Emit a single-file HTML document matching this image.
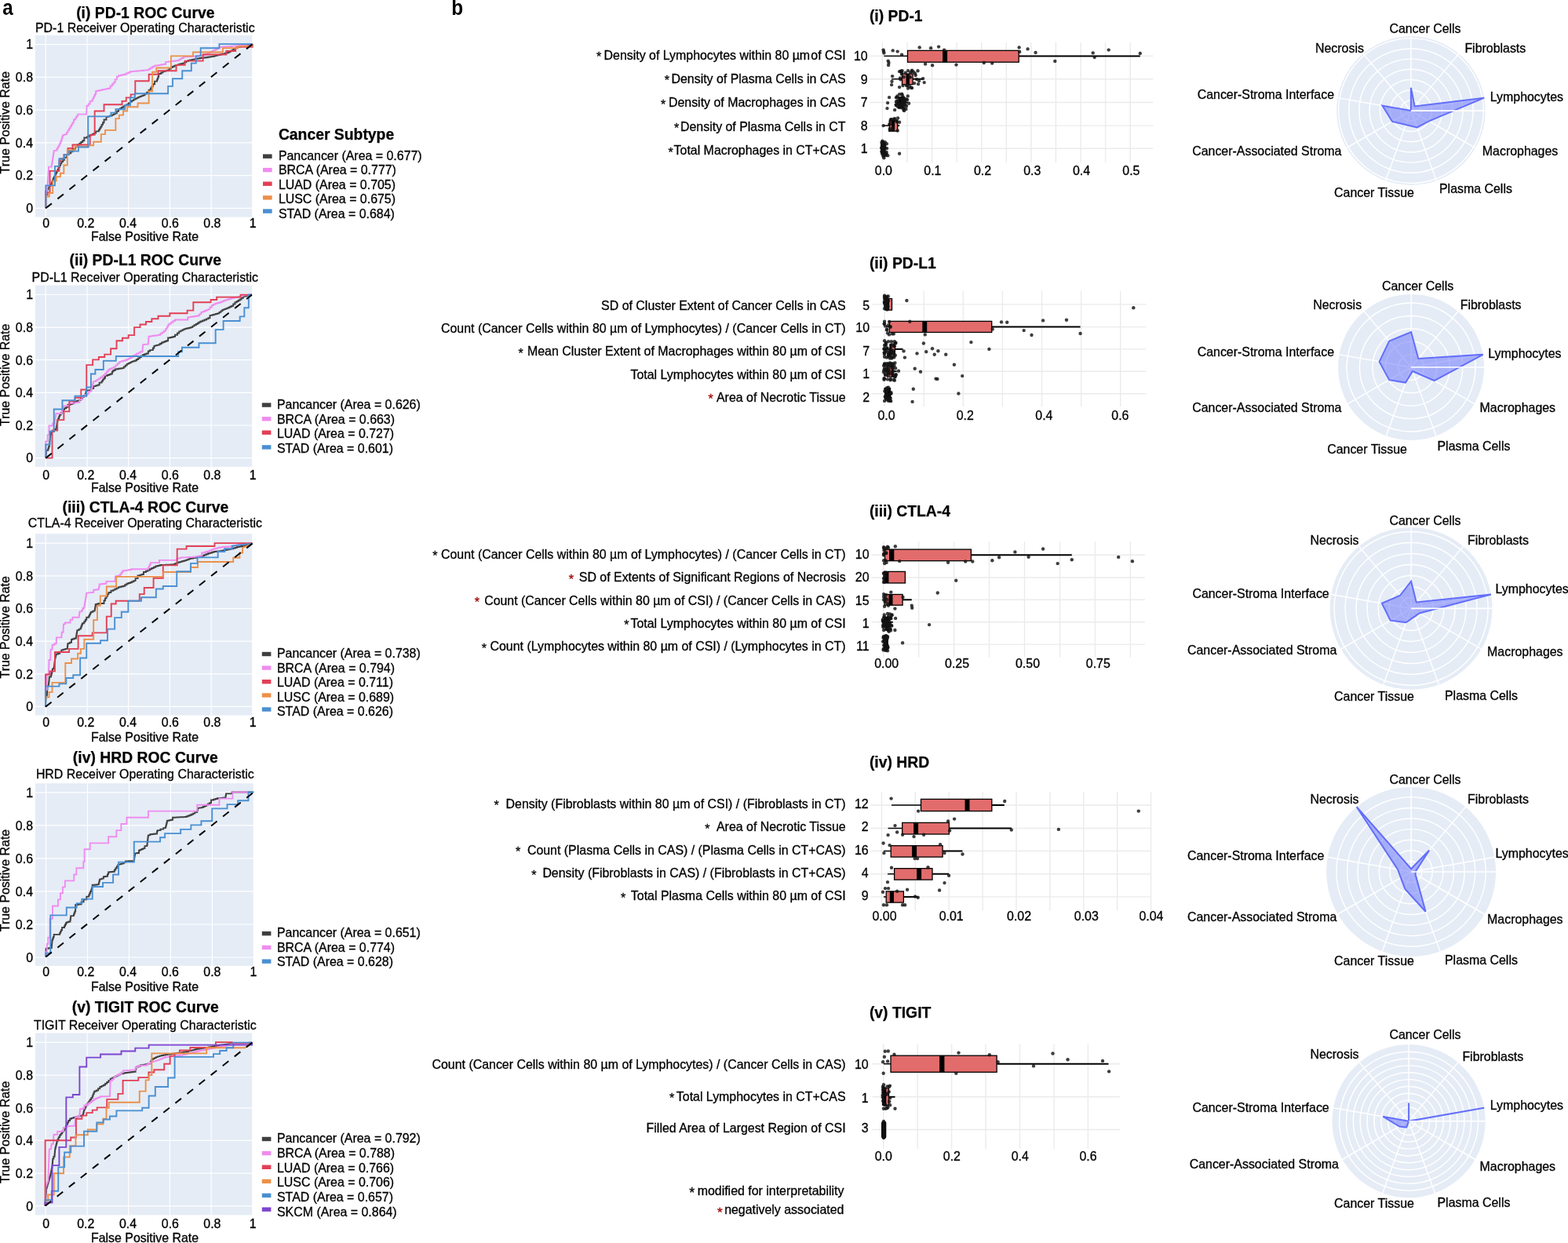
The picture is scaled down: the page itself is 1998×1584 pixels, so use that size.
<!DOCTYPE html>
<html><head><meta charset="utf-8"><title>Figure</title>
<style>
html,body{margin:0;padding:0;background:#fff;}
svg{display:block;}
.t{font-family:'Liberation Sans', Arial, Helvetica, sans-serif;font-size:15.93px;fill:#000;stroke:#000;stroke-width:0.3px;}
.tb{font-family:'Liberation Sans', Arial, Helvetica, sans-serif;font-size:19.35px;font-weight:bold;fill:#000;stroke:#000;stroke-width:0.25px;}
.tl{font-family:'Liberation Sans', Arial, Helvetica, sans-serif;font-size:28px;font-weight:bold;fill:#000;}
.st{font-family:'Liberation Sans', Arial, Helvetica, sans-serif;font-size:16px;stroke-width:0.3px;}
</style></head>
<body>
<svg xmlns="http://www.w3.org/2000/svg" width="1998" height="1584" viewBox="0 0 1998 1584">
<rect width="1998" height="1584" fill="#fff"/>
<rect x="45.0" y="45.0" width="276.8" height="231.6" fill="#e5ecf6"/>
<line x1="58.3" y1="45.0" x2="58.3" y2="276.6" stroke="#fff" stroke-width="1.2"/>
<line x1="45.0" y1="265.4" x2="321.8" y2="265.4" stroke="#fff" stroke-width="1.2"/>
<line x1="111.0" y1="45.0" x2="111.0" y2="276.6" stroke="#fff" stroke-width="1.2"/>
<line x1="45.0" y1="223.6" x2="321.8" y2="223.6" stroke="#fff" stroke-width="1.2"/>
<line x1="163.7" y1="45.0" x2="163.7" y2="276.6" stroke="#fff" stroke-width="1.2"/>
<line x1="45.0" y1="181.9" x2="321.8" y2="181.9" stroke="#fff" stroke-width="1.2"/>
<line x1="216.4" y1="45.0" x2="216.4" y2="276.6" stroke="#fff" stroke-width="1.2"/>
<line x1="45.0" y1="140.1" x2="321.8" y2="140.1" stroke="#fff" stroke-width="1.2"/>
<line x1="269.1" y1="45.0" x2="269.1" y2="276.6" stroke="#fff" stroke-width="1.2"/>
<line x1="45.0" y1="98.4" x2="321.8" y2="98.4" stroke="#fff" stroke-width="1.2"/>
<line x1="321.8" y1="45.0" x2="321.8" y2="276.6" stroke="#fff" stroke-width="1.2"/>
<line x1="45.0" y1="56.6" x2="321.8" y2="56.6" stroke="#fff" stroke-width="1.2"/>
<g clip-path="url(#rocclip0)" fill="none" stroke-width="1.9" stroke-linejoin="miter">
<polyline points="58.35,265.33 58.35,263.27 58.35,263.27 58.35,261.21 58.35,261.21 58.35,259.14 58.35,259.14 58.35,257.08 58.35,257.08 58.35,255.02 58.35,255.02 58.35,252.96 58.35,252.96 58.35,250.90 58.35,250.90 58.35,248.84 58.35,248.84 58.35,246.78 58.35,246.78 58.35,243.81 59.84,243.81 59.84,241.59 61.32,241.59 61.32,239.36 62.80,239.36 62.80,237.14 64.29,237.14 64.29,234.91 65.77,234.91 65.77,232.44 66.76,232.44 66.76,229.97 67.75,229.97 67.75,227.49 68.74,227.49 68.74,225.51 69.73,225.51 69.73,223.54 70.72,223.54 70.72,221.56 71.71,221.56 71.71,219.58 72.70,219.58 72.70,217.60 73.68,217.60 73.68,215.62 74.67,215.62 74.67,213.15 75.91,213.15 75.91,210.68 77.15,210.68 77.15,208.20 78.38,208.20 78.38,205.98 80.24,205.98 80.24,203.75 82.09,203.75 82.09,200.79 85.06,200.79 85.06,197.08 88.03,197.08 88.03,195.22 90.25,195.22 90.25,193.37 92.48,193.37 92.48,189.66 96.19,189.66 96.19,187.06 98.78,187.06 98.78,184.47 101.38,184.47 101.38,182.73 103.36,182.73 103.36,181.00 105.34,181.00 105.34,179.27 107.31,179.27 107.31,175.56 111.02,175.56 111.02,174.08 113.62,174.08 113.62,172.60 116.22,172.60 116.22,171.61 118.19,171.61 118.19,170.62 120.17,170.62 120.17,169.63 122.15,169.63 122.15,167.40 125.86,167.40 125.86,165.43 127.10,165.43 127.10,163.45 128.33,163.45 128.33,161.47 129.57,161.47 129.57,158.87 131.05,158.87 131.05,156.28 132.54,156.28 132.54,152.57 135.50,152.57 135.50,148.86 138.47,148.86 138.47,148.12 140.70,148.12 140.70,147.37 142.92,147.37 142.92,146.38 144.90,146.38 144.90,145.40 146.88,145.40 146.88,144.41 148.86,144.41 148.86,141.81 151.08,141.81 151.08,139.21 153.31,139.21 153.31,137.98 155.29,137.98 155.29,136.74 157.27,136.74 157.27,135.50 159.24,135.50 159.24,134.39 161.47,134.39 161.47,133.28 163.69,133.28 163.69,131.42 165.92,131.42 165.92,129.57 168.15,129.57 168.15,128.09 170.37,128.09 170.37,126.60 172.60,126.60 172.60,125.61 174.57,125.61 174.57,124.62 176.55,124.62 176.55,123.64 178.53,123.64 178.53,122.89 180.51,122.89 180.51,122.15 182.49,122.15 182.49,121.41 184.47,121.41 184.47,119.55 187.06,119.55 187.06,117.70 189.66,117.70 189.66,114.73 191.88,114.73 191.88,112.51 193.37,112.51 193.37,110.28 194.85,110.28 194.85,107.31 197.08,107.31 197.08,103.61 200.04,103.61 200.04,101.63 200.79,101.63 200.79,99.65 201.53,99.65 201.53,97.67 202.27,97.67 202.27,93.96 205.24,93.96 205.24,92.48 207.46,92.48 207.46,90.99 209.69,90.99 209.69,90.50 211.67,90.50 211.67,90.00 213.64,90.00 213.64,89.51 215.62,89.51 215.62,87.66 217.85,87.66 217.85,85.80 220.07,85.80 220.07,84.69 222.30,84.69 222.30,83.58 224.53,83.58 224.53,82.98 226.60,82.98 226.60,82.39 228.68,82.39 228.68,81.80 230.76,81.80 230.76,81.20 232.83,81.20 232.83,80.61 234.91,80.61 234.91,79.37 237.38,79.37 237.38,78.14 239.86,78.14 239.86,76.90 242.33,76.90 242.33,76.40 244.80,76.40 244.80,75.91 247.27,75.91 247.27,75.42 249.75,75.42 249.75,74.92 252.22,74.92 252.22,74.43 254.69,74.43 254.69,73.93 257.17,73.93 257.17,73.68 259.64,73.68 259.64,73.44 262.11,73.44 262.11,73.19 264.58,73.19 264.58,72.82 266.81,72.82 266.81,72.45 269.04,72.45 269.04,72.08 271.26,72.08 271.26,71.71 273.49,71.71 273.49,71.15 275.71,71.15 275.71,70.59 277.94,70.59 277.94,70.04 280.16,70.04 280.16,69.48 282.39,69.48 282.39,68.92 284.61,68.92 284.61,68.37 286.84,68.37 286.84,67.81 289.07,67.81 289.07,67.26 291.29,67.26 291.29,66.27 293.27,66.27 293.27,65.28 295.25,65.28 295.25,64.29 297.23,64.29 297.23,62.80 299.70,62.80 299.70,61.32 302.17,61.32 302.17,59.84 304.64,59.84 304.64,59.47 306.80,59.47 306.80,59.09 308.95,59.09 308.95,58.72 311.10,58.72 311.10,58.35 313.25,58.35 313.25,57.98 315.40,57.98 315.40,57.61 317.55,57.61 317.55,57.24 319.70,57.24 319.70,56.87 321.85,56.87 321.85,56.13 321.85,56.13" stroke="#3f3f3f"/>
<polyline points="58.35,265.33 58.35,263.38 58.35,263.38 58.35,261.43 58.35,261.43 58.35,259.48 58.35,259.48 58.35,257.54 58.35,257.54 58.35,255.59 58.35,255.59 58.35,253.64 58.35,253.64 58.35,251.70 58.35,251.70 58.35,249.75 58.35,249.75 58.35,247.77 58.85,247.77 58.85,245.79 59.34,245.79 59.34,243.81 59.84,243.81 59.84,241.59 60.03,241.59 60.03,239.36 60.23,239.36 60.23,237.14 60.43,237.14 60.43,234.91 60.63,234.91 60.63,232.69 60.83,232.69 60.83,230.46 61.02,230.46 61.02,228.45 61.17,228.45 61.17,226.43 61.32,226.43 61.32,224.42 61.47,224.42 61.47,222.41 61.62,222.41 61.62,220.39 61.77,220.39 61.77,218.38 61.91,218.38 61.91,216.36 62.06,216.36 62.06,212.66 65.77,212.66 65.77,210.60 66.10,210.60 66.10,208.53 66.43,208.53 66.43,206.47 66.76,206.47 66.76,204.41 67.09,204.41 67.09,202.35 67.42,202.35 67.42,200.29 67.75,200.29 67.75,198.23 68.08,198.23 68.08,196.17 68.41,196.17 68.41,194.11 68.74,194.11 68.74,191.88 72.45,191.88 72.45,189.29 73.93,189.29 73.93,186.69 75.42,186.69 75.42,184.47 76.40,184.47 76.40,182.24 77.39,182.24 77.39,180.01 78.38,180.01 78.38,177.54 79.12,177.54 79.12,175.07 79.87,175.07 79.87,172.60 80.61,172.60 80.61,171.85 82.83,171.85 82.83,171.11 85.06,171.11 85.06,168.64 86.54,168.64 86.54,166.17 88.03,166.17 88.03,163.69 89.51,163.69 89.51,161.22 90.99,161.22 90.99,158.75 92.48,158.75 92.48,156.28 93.96,156.28 93.96,152.57 96.19,152.57 96.19,150.24 97.67,150.24 97.67,147.92 99.15,147.92 99.15,145.59 100.64,145.59 100.64,145.59 102.57,145.59 102.57,145.59 104.50,145.59 104.50,145.59 106.42,145.59 106.42,145.59 108.35,145.59 108.35,145.59 110.28,145.59 110.28,143.44 110.36,143.44 110.36,141.29 110.43,141.29 110.43,139.14 110.50,139.14 110.50,136.99 110.58,136.99 110.58,134.76 112.66,134.76 112.66,132.54 114.73,132.54 114.73,128.83 117.70,128.83 117.70,126.60 118.81,126.60 118.81,124.38 119.93,124.38 119.93,122.15 121.04,122.15 121.04,119.93 122.15,119.93 122.15,116.22 123.64,116.22 123.64,115.72 125.86,115.72 125.86,115.23 128.09,115.23 128.09,114.73 130.31,114.73 130.31,114.29 132.39,114.29 132.39,113.84 134.47,113.84 134.47,113.40 136.54,113.40 136.54,112.95 138.62,112.95 138.62,112.51 140.70,112.51 140.70,109.54 142.92,109.54 142.92,107.31 144.78,107.31 144.78,105.09 146.63,105.09 146.63,101.38 148.86,101.38 148.86,97.67 151.08,97.67 151.08,96.19 154.05,96.19 154.05,95.69 156.28,95.69 156.28,95.20 158.50,95.20 158.50,94.70 160.73,94.70 160.73,93.57 163.20,93.57 163.20,92.43 165.67,92.43 165.67,91.29 168.15,91.29 168.15,91.10 170.10,91.10 170.10,90.91 172.06,90.91 172.06,90.72 174.01,90.72 174.01,90.54 175.97,90.54 175.97,90.35 177.92,90.35 177.92,90.16 179.88,90.16 179.88,89.97 181.84,89.97 181.84,89.78 183.79,89.78 183.79,89.59 185.75,89.59 185.75,89.40 187.70,89.40 187.70,89.21 189.66,89.21 189.66,87.88 191.88,87.88 191.88,86.54 194.11,86.54 194.11,85.21 196.34,85.21 196.34,83.87 198.56,83.87 198.56,83.53 200.66,83.53 200.66,83.18 202.76,83.18 202.76,82.83 204.87,82.83 204.87,82.49 206.97,82.49 206.97,82.14 209.07,82.14 209.07,81.80 211.17,81.80 211.17,78.83 214.88,78.83 214.88,78.38 218.59,78.38 218.59,78.09 220.67,78.09 220.67,77.79 222.74,77.79 222.74,77.49 224.82,77.49 224.82,77.20 226.90,77.20 226.90,76.90 228.98,76.90 228.98,75.42 231.45,75.42 231.45,73.93 233.92,73.93 233.92,72.45 236.39,72.45 236.39,72.32 238.62,72.32 238.62,72.20 240.85,72.20 240.85,72.08 243.07,72.08 243.07,71.95 245.30,71.95 245.30,71.83 247.52,71.83 247.52,71.71 249.75,71.71 249.75,71.46 251.73,71.46 251.73,71.21 253.70,71.21 253.70,70.96 255.68,70.96 255.68,70.72 257.66,70.72 257.66,70.47 259.64,70.47 259.64,70.22 261.62,70.22 261.62,69.23 263.72,69.23 263.72,68.24 265.82,68.24 265.82,67.26 267.92,67.26 267.92,66.27 270.02,66.27 270.02,65.28 272.13,65.28 272.13,64.29 274.23,64.29 274.23,63.18 276.27,63.18 276.27,62.06 278.31,62.06 278.31,60.95 280.35,60.95 280.35,59.84 282.39,59.84 282.39,59.69 284.47,59.69 284.47,59.54 286.54,59.54 286.54,59.39 288.62,59.39 288.62,59.24 290.70,59.24 290.70,59.09 292.77,59.09 292.77,58.95 294.85,58.95 294.85,58.80 296.93,58.80 296.93,58.65 299.01,58.65 299.01,58.50 301.08,58.50 301.08,58.35 303.16,58.35 303.16,58.11 305.24,58.11 305.24,57.86 307.31,57.86 307.31,57.61 309.39,57.61 309.39,57.36 311.47,57.36 311.47,57.12 313.55,57.12 313.55,56.87 315.62,56.87 315.62,56.62 317.70,56.62 317.70,56.37 319.78,56.37 319.78,56.13 321.85,56.13" stroke="#ef8cef"/>
<polyline points="58.35,265.33 58.35,248.26 60.58,248.26 60.58,245.30 63.55,245.30 63.55,217.85 75.42,217.85 75.42,205.24 77.64,205.24 77.64,202.27 81.35,202.27 81.35,197.08 86.54,197.08 86.54,188.92 92.48,188.92 92.48,184.47 114.73,184.47 114.73,171.85 120.67,171.85 120.67,141.44 132.54,141.44 132.54,133.28 155.53,133.28 155.53,128.83 160.73,128.83 160.73,124.38 166.66,124.38 166.66,120.37 172.30,120.37 172.30,103.31 189.66,103.31 189.66,94.70 201.53,94.70 201.53,90.25 224.53,90.25 224.53,82.83 235.65,82.83 235.65,77.64 258.65,77.64 258.65,69.48 288.32,69.48 288.32,65.03 300.19,65.03 300.19,61.32 303.16,59.84 321.85,59.84 321.85,56.13" stroke="#e23f55"/>
<polyline points="58.35,265.33 58.35,250.49 62.80,250.49 62.80,246.04 67.26,246.04 67.26,230.46 71.71,230.46 71.71,225.27 76.90,225.27 76.90,220.82 81.35,220.82 81.35,210.43 85.80,210.43 85.80,191.14 95.45,191.14 95.45,186.69 113.25,186.69 113.25,185.21 119.18,185.21 119.18,180.76 128.83,180.76 128.83,171.11 134.02,171.11 134.02,165.92 147.37,165.92 147.37,151.08 151.82,151.08 151.82,146.63 157.02,146.63 157.02,141.44 162.21,141.44 162.21,136.25 175.56,136.25 175.56,131.50 189.66,131.50 189.66,116.22 194.11,116.22 194.11,91.74 199.30,91.74 199.30,86.54 217.85,86.54 217.85,71.41 246.04,71.41 246.04,66.51 283.87,66.51 283.87,61.32 303.16,61.32 303.16,59.09 321.85,58.35 321.85,56.13" stroke="#ec9049"/>
<polyline points="58.35,265.33 58.35,236.39 69.93,236.39 69.93,211.91 75.42,211.91 75.42,202.27 82.09,202.27 82.09,197.08 88.03,197.08 88.03,192.63 99.90,192.63 99.90,187.43 112.21,187.43 112.21,148.41 141.44,148.41 141.44,143.66 147.37,143.66 147.37,139.21 159.24,139.21 159.24,134.02 165.92,134.02 165.92,124.38 171.85,124.38 171.85,119.18 214.14,119.18 214.14,109.84 220.07,109.84 220.07,100.19 232.24,100.19 232.24,90.25 243.81,90.25 243.81,80.61 249.75,80.61 249.75,71.41 255.68,71.41 255.68,61.32 279.42,61.32 279.42,56.13 321.85,56.13" stroke="#4a8fd1"/>
<line x1="58.35" y1="265.33" x2="321.85" y2="56.13" stroke="#000" stroke-width="2.0" stroke-dasharray="9.6,9.6"/>
</g>
<clipPath id="rocclip0"><rect x="45.0" y="45.0" width="277.8" height="231.6"/></clipPath>
<text x="58.6" y="289.6" text-anchor="middle" class="t">0</text>
<text x="42" y="271.2" text-anchor="end" class="t">0</text>
<text x="109.2" y="289.6" text-anchor="middle" class="t">0.2</text>
<text x="42" y="229.4" text-anchor="end" class="t">0.2</text>
<text x="163.1" y="289.6" text-anchor="middle" class="t">0.4</text>
<text x="42" y="187.7" text-anchor="end" class="t">0.4</text>
<text x="216.9" y="289.6" text-anchor="middle" class="t">0.6</text>
<text x="42" y="145.9" text-anchor="end" class="t">0.6</text>
<text x="270.4" y="289.6" text-anchor="middle" class="t">0.8</text>
<text x="42" y="104.2" text-anchor="end" class="t">0.8</text>
<text x="322.2" y="289.6" text-anchor="middle" class="t">1</text>
<text x="42" y="62.4" text-anchor="end" class="t">1</text>
<text x="184.5" y="306.9" text-anchor="middle" class="t">False Positive Rate</text>
<text transform="translate(12.4,156.2) rotate(-90)" x="0" y="0" text-anchor="middle" class="t">True Positive Rate</text>
<text x="185.3" y="22.8" text-anchor="middle" class="tb">(i) PD-1 ROC Curve</text>
<text x="184.8" y="41.1" text-anchor="middle" class="t">PD-1 Receiver Operating Characteristic</text>
<rect x="335.0" y="196.5" width="11.6" height="5.4" fill="#3f3f3f"/>
<text x="354.9" y="203.8" class="t">Pancancer (Area = 0.677)</text>
<rect x="335.0" y="213.9" width="11.6" height="5.4" fill="#ef8cef"/>
<text x="354.9" y="222.3" class="t">BRCA (Area = 0.777)</text>
<rect x="335.0" y="231.5" width="11.6" height="5.4" fill="#e23f55"/>
<text x="354.9" y="240.8" class="t">LUAD (Area = 0.705)</text>
<rect x="335.0" y="249.2" width="11.6" height="5.4" fill="#ec9049"/>
<text x="354.9" y="259.3" class="t">LUSC (Area = 0.675)</text>
<rect x="335.0" y="266.4" width="11.6" height="5.4" fill="#4a8fd1"/>
<text x="354.9" y="277.7" class="t">STAD (Area = 0.684)</text>
<text x="354.9" y="178.0" class="tb">Cancer Subtype</text>
<rect x="45.0" y="363.5" width="276.8" height="231.3" fill="#e5ecf6"/>
<line x1="58.3" y1="363.5" x2="58.3" y2="594.8" stroke="#fff" stroke-width="1.2"/>
<line x1="45.0" y1="583.6" x2="321.8" y2="583.6" stroke="#fff" stroke-width="1.2"/>
<line x1="111.0" y1="363.5" x2="111.0" y2="594.8" stroke="#fff" stroke-width="1.2"/>
<line x1="45.0" y1="542.0" x2="321.8" y2="542.0" stroke="#fff" stroke-width="1.2"/>
<line x1="163.7" y1="363.5" x2="163.7" y2="594.8" stroke="#fff" stroke-width="1.2"/>
<line x1="45.0" y1="500.4" x2="321.8" y2="500.4" stroke="#fff" stroke-width="1.2"/>
<line x1="216.4" y1="363.5" x2="216.4" y2="594.8" stroke="#fff" stroke-width="1.2"/>
<line x1="45.0" y1="458.7" x2="321.8" y2="458.7" stroke="#fff" stroke-width="1.2"/>
<line x1="269.1" y1="363.5" x2="269.1" y2="594.8" stroke="#fff" stroke-width="1.2"/>
<line x1="45.0" y1="417.1" x2="321.8" y2="417.1" stroke="#fff" stroke-width="1.2"/>
<line x1="321.8" y1="363.5" x2="321.8" y2="594.8" stroke="#fff" stroke-width="1.2"/>
<line x1="45.0" y1="375.5" x2="321.8" y2="375.5" stroke="#fff" stroke-width="1.2"/>
<g clip-path="url(#rocclip1)" fill="none" stroke-width="1.9" stroke-linejoin="miter">
<polyline points="58.35,583.62 58.35,581.30 58.60,581.30 58.60,578.97 58.85,578.97 58.85,576.65 59.09,576.65 59.09,573.68 61.32,573.68 61.32,571.46 62.06,571.46 62.06,569.23 62.80,569.23 62.80,567.01 63.05,567.01 63.05,564.78 63.30,564.78 63.30,562.55 63.55,562.55 63.55,560.33 63.79,560.33 63.79,558.10 64.04,558.10 64.04,555.88 64.29,555.88 64.29,553.65 65.03,553.65 65.03,551.43 65.77,551.43 65.77,549.94 68.74,549.94 68.74,546.98 71.71,546.98 71.71,544.75 72.08,544.75 72.08,542.53 72.45,542.53 72.45,540.30 72.82,540.30 72.82,538.07 73.19,538.07 73.19,535.60 74.18,535.60 74.18,533.13 75.17,533.13 75.17,530.66 76.16,530.66 76.16,528.43 77.64,528.43 77.64,526.20 79.12,526.20 79.12,523.98 80.61,523.98 80.61,521.75 82.09,521.75 82.09,520.27 84.32,520.27 84.32,518.79 86.54,518.79 86.54,515.82 89.51,515.82 89.51,515.08 91.74,515.08 91.74,514.34 93.96,514.34 93.96,512.85 96.19,512.85 96.19,511.37 98.41,511.37 98.41,510.63 100.64,510.63 100.64,509.88 102.86,509.88 102.86,507.91 104.84,507.91 104.84,505.93 106.82,505.93 106.82,503.95 108.80,503.95 108.80,501.97 109.29,501.97 109.29,499.99 109.79,499.99 109.79,498.01 110.28,498.01 110.28,497.77 112.26,497.77 112.26,497.52 114.24,497.52 114.24,497.27 116.22,497.27 116.22,495.05 119.18,495.05 119.18,492.08 122.15,492.08 122.15,491.34 124.38,491.34 124.38,490.60 126.60,490.60 126.60,487.63 129.57,487.63 129.57,485.65 131.05,485.65 131.05,483.67 132.54,483.67 132.54,481.69 134.02,481.69 134.02,478.73 136.99,478.73 136.99,477.99 138.97,477.99 138.97,477.24 140.94,477.24 140.94,476.50 142.92,476.50 142.92,473.53 144.41,473.53 144.41,472.05 146.63,472.05 146.63,470.57 148.86,470.57 148.86,470.20 151.08,470.20 151.08,469.82 153.31,469.82 153.31,469.45 155.53,469.45 155.53,469.08 157.76,469.08 157.76,467.35 159.74,467.35 159.74,465.62 161.72,465.62 161.72,463.89 163.69,463.89 163.69,462.90 165.67,462.90 165.67,461.91 167.65,461.91 167.65,460.92 169.63,460.92 169.63,460.18 171.85,460.18 171.85,459.44 174.08,459.44 174.08,457.96 176.06,457.96 176.06,456.47 178.04,456.47 178.04,454.99 180.01,454.99 180.01,453.50 182.24,453.50 182.24,452.02 184.47,452.02 184.47,451.28 186.69,451.28 186.69,450.54 188.92,450.54 188.92,447.57 191.14,447.57 191.14,446.09 194.85,446.09 194.85,443.49 196.34,443.49 196.34,440.89 197.82,440.89 197.82,440.40 199.80,440.40 199.80,439.90 201.78,439.90 201.78,439.41 203.75,439.41 203.75,437.93 205.98,437.93 205.98,436.44 208.20,436.44 208.20,435.70 210.18,435.70 210.18,434.96 212.16,434.96 212.16,434.22 214.14,434.22 214.14,430.51 217.11,430.51 217.11,430.01 219.09,430.01 219.09,429.52 221.06,429.52 221.06,429.02 223.04,429.02 223.04,426.80 226.01,426.80 226.01,424.57 228.23,424.57 228.23,422.35 230.46,422.35 230.46,421.36 232.44,421.36 232.44,420.37 234.42,420.37 234.42,419.38 236.39,419.38 236.39,418.82 238.62,418.82 238.62,418.27 240.85,418.27 240.85,417.71 243.07,417.71 243.07,417.15 245.30,417.15 245.30,415.67 247.52,415.67 247.52,414.19 249.75,414.19 249.75,412.95 251.73,412.95 251.73,411.71 253.70,411.71 253.70,410.48 255.68,410.48 255.68,409.49 258.16,409.49 258.16,408.50 260.63,408.50 260.63,407.51 263.10,407.51 263.10,406.40 265.33,406.40 265.33,405.28 267.55,405.28 267.55,401.87 270.52,401.87 270.52,401.24 272.74,401.24 272.74,400.61 274.97,400.61 274.97,399.98 277.20,399.98 277.20,399.35 279.42,399.35 279.42,397.87 281.40,397.87 281.40,396.38 283.38,396.38 283.38,394.90 285.36,394.90 285.36,394.16 287.33,394.16 287.33,393.42 289.31,393.42 289.31,392.67 291.29,392.67 291.29,391.68 293.27,391.68 293.27,390.70 295.25,390.70 295.25,389.71 297.23,389.71 297.23,387.48 299.45,387.48 299.45,385.26 301.68,385.26 301.68,384.02 303.65,384.02 303.65,382.78 305.63,382.78 305.63,381.55 307.61,381.55 307.61,379.69 309.84,379.69 309.84,377.84 312.06,377.84 312.06,377.28 314.29,377.28 314.29,376.72 316.51,376.72 316.51,376.17 318.74,376.17 318.74,375.61 320.96,375.61" stroke="#3f3f3f"/>
<polyline points="58.35,583.62 58.35,581.52 58.35,581.52 58.35,579.41 58.35,579.41 58.35,577.30 58.35,577.30 58.35,575.20 58.35,575.20 58.35,573.09 58.35,573.09 58.35,570.98 58.35,570.98 58.35,568.88 58.35,568.88 58.35,566.77 58.35,566.77 58.35,564.66 58.35,564.66 58.35,562.55 58.35,562.55 58.35,562.55 60.58,562.55 60.58,560.51 60.58,560.51 60.58,558.47 60.58,558.47 60.58,556.43 60.58,556.43 60.58,554.39 60.58,554.39 60.58,554.39 62.51,554.39 62.51,552.42 62.51,552.42 62.51,550.44 62.51,550.44 62.51,548.46 62.51,548.46 62.51,546.48 62.51,546.48 62.51,544.50 62.51,544.50 62.51,542.53 62.51,542.53 62.51,542.53 64.88,542.53 64.88,542.53 67.26,542.53 67.26,539.56 69.48,539.56 69.48,537.46 69.85,537.46 69.85,535.35 70.22,535.35 70.22,533.25 70.59,533.25 70.59,531.15 70.96,531.15 70.96,529.05 71.34,529.05 71.34,526.95 71.71,526.95 71.71,526.95 73.93,526.95 73.93,526.95 76.16,526.95 76.16,526.95 78.38,526.95 78.38,525.02 78.98,525.02 78.98,523.09 79.57,523.09 79.57,521.16 80.16,521.16 80.16,519.23 80.76,519.23 80.76,517.30 81.35,517.30 81.35,517.30 83.58,517.30 83.58,517.30 85.80,517.30 85.80,517.30 88.03,517.30 88.03,514.34 88.03,514.34 88.03,514.09 90.25,514.09 90.25,513.84 92.48,513.84 92.48,513.59 94.70,513.59 94.70,513.35 96.93,513.35 96.93,513.10 99.15,513.10 99.15,512.85 101.38,512.85 101.38,509.14 104.35,509.14 104.35,505.43 107.31,505.43 107.31,504.20 109.29,504.20 109.29,502.96 111.27,502.96 111.27,501.72 113.25,501.72 113.25,498.76 116.22,498.76 116.22,496.53 116.81,496.53 116.81,494.31 117.40,494.31 117.40,492.08 118.00,492.08 118.00,489.85 118.59,489.85 118.59,487.63 119.18,487.63 119.18,486.15 122.15,486.15 122.15,484.91 124.13,484.91 124.13,483.67 126.11,483.67 126.11,482.44 128.09,482.44 128.09,480.95 130.06,480.95 130.06,479.47 132.04,479.47 132.04,477.99 134.02,477.99 134.02,475.76 136.00,475.76 136.00,473.53 137.98,473.53 137.98,471.31 139.96,471.31 139.96,470.07 142.43,470.07 142.43,468.84 144.90,468.84 144.90,467.60 147.37,467.60 147.37,465.37 149.85,465.37 149.85,463.15 152.32,463.15 152.32,460.92 154.79,460.92 154.79,460.18 157.27,460.18 157.27,459.44 159.74,459.44 159.74,458.70 162.21,458.70 162.21,457.71 164.19,457.71 164.19,456.72 166.17,456.72 166.17,455.73 168.15,455.73 168.15,454.49 170.12,454.49 170.12,453.26 172.10,453.26 172.10,452.02 174.08,452.02 174.08,450.78 176.55,450.78 176.55,449.55 179.03,449.55 179.03,448.31 181.50,448.31 181.50,446.09 181.68,446.09 181.68,443.86 181.87,443.86 181.87,441.64 182.05,441.64 182.05,439.41 182.24,439.41 182.24,439.16 184.47,439.16 184.47,438.91 186.69,438.91 186.69,438.67 188.92,438.67 188.92,436.74 189.07,436.74 189.07,434.81 189.21,434.81 189.21,432.88 189.36,432.88 189.36,430.95 189.51,430.95 189.51,429.02 189.66,429.02 189.66,428.71 191.78,428.71 191.78,428.39 193.90,428.39 193.90,428.07 196.02,428.07 196.02,427.75 198.14,427.75 198.14,427.43 200.26,427.43 200.26,427.12 202.38,427.12 202.38,426.80 204.50,426.80 204.50,425.07 206.72,425.07 206.72,423.34 208.95,423.34 208.95,421.61 211.17,421.61 211.17,419.13 212.66,419.13 212.66,416.66 214.14,416.66 214.14,414.19 215.62,414.19 215.62,412.46 218.10,412.46 218.10,410.73 220.57,410.73 220.57,408.99 223.04,408.99 223.04,407.51 225.27,407.51 225.27,407.51 227.28,407.51 227.28,407.51 229.29,407.51 229.29,407.51 231.31,407.51 231.31,407.51 233.32,407.51 233.32,407.51 235.33,407.51 235.33,407.51 237.35,407.51 237.35,407.51 239.36,407.51 239.36,404.54 240.85,404.54 240.85,404.17 243.07,404.17 243.07,403.80 245.30,403.80 245.30,403.43 247.52,403.43 247.52,403.06 249.75,403.06 249.75,402.69 251.97,402.69 251.97,402.32 254.20,402.32 254.20,400.09 256.42,400.09 256.42,397.87 258.65,397.87 258.65,396.94 260.88,396.94 260.88,396.01 263.10,396.01 263.10,395.08 265.33,395.08 265.33,394.16 267.55,394.16 267.55,391.56 269.78,391.56 269.78,388.96 272.00,388.96 272.00,387.85 274.23,387.85 274.23,386.74 276.45,386.74 276.45,386.24 278.43,386.24 278.43,385.75 280.41,385.75 280.41,385.26 282.39,385.26 282.39,384.27 284.86,384.27 284.86,383.28 287.33,383.28 287.33,382.29 289.81,382.29 289.81,381.55 292.28,381.55 292.28,380.80 294.75,380.80 294.75,380.06 297.23,380.06 297.23,379.62 299.30,379.62 299.30,379.17 301.38,379.17 301.38,378.73 303.46,378.73 303.46,378.28 305.53,378.28 305.53,377.84 307.61,377.84 307.61,377.09 309.84,377.09 309.84,376.35 312.06,376.35 312.06,376.17 314.29,376.17 314.29,375.98 316.51,375.98 316.51,375.80 318.74,375.80 318.74,375.61 320.96,375.61" stroke="#ef8cef"/>
<polyline points="58.35,583.62 66.51,583.62 66.51,548.46 73.19,548.46 73.19,535.11 81.35,535.11 81.35,524.42 88.32,524.42 88.32,511.37 95.45,511.37 95.45,506.92 103.31,506.92 103.31,496.53 110.28,496.53 110.28,465.08 118.15,465.08 118.15,458.40 125.86,458.40 125.86,454.99 133.28,454.99 133.28,451.58 141.14,451.58 141.14,444.31 148.56,444.31 148.56,434.22 155.98,434.22 155.98,430.80 163.69,430.80 163.69,427.09 171.11,427.09 171.11,417.15 178.53,417.15 178.53,413.45 185.95,413.45 185.95,410.03 193.37,410.03 193.37,406.32 201.53,406.32 201.53,402.76 216.36,402.76 216.36,399.20 238.62,399.20 238.62,395.64 246.34,395.64 246.34,385.26 268.59,385.26 268.59,381.99 276.16,381.99 276.16,378.58 306.42,378.58 306.42,375.61 320.96,375.61" stroke="#e23f55"/>
<polyline points="58.35,583.62 58.35,566.56 63.55,566.56 63.55,549.65 68.74,549.65 68.74,521.46 79.42,521.46 79.42,510.18 95.45,510.18 95.45,504.69 110.28,504.69 110.28,493.56 115.92,493.56 115.92,476.50 121.41,476.50 121.41,471.01 131.80,471.01 131.80,459.74 147.82,459.74 147.82,453.95 227.20,453.95 227.20,448.31 231.94,448.31 231.94,442.82 253.46,442.82 253.46,437.18 274.67,437.18 274.67,420.12 284.61,420.12 284.61,408.99 305.68,408.99 305.68,403.36 311.32,403.36 311.32,392.23 316.81,392.23 316.81,375.61 320.96,375.61" stroke="#4a8fd1"/>
<line x1="58.35" y1="583.62" x2="320.96" y2="375.61" stroke="#000" stroke-width="2.0" stroke-dasharray="9.6,9.6"/>
</g>
<clipPath id="rocclip1"><rect x="45.0" y="363.5" width="277.8" height="231.3"/></clipPath>
<text x="58.6" y="610.8" text-anchor="middle" class="t">0</text>
<text x="42" y="589.4" text-anchor="end" class="t">0</text>
<text x="109.2" y="610.8" text-anchor="middle" class="t">0.2</text>
<text x="42" y="547.8" text-anchor="end" class="t">0.2</text>
<text x="163.1" y="610.8" text-anchor="middle" class="t">0.4</text>
<text x="42" y="506.2" text-anchor="end" class="t">0.4</text>
<text x="216.9" y="610.8" text-anchor="middle" class="t">0.6</text>
<text x="42" y="464.5" text-anchor="end" class="t">0.6</text>
<text x="270.4" y="610.8" text-anchor="middle" class="t">0.8</text>
<text x="42" y="422.9" text-anchor="end" class="t">0.8</text>
<text x="322.2" y="610.8" text-anchor="middle" class="t">1</text>
<text x="42" y="381.3" text-anchor="end" class="t">1</text>
<text x="184.5" y="627.0" text-anchor="middle" class="t">False Positive Rate</text>
<text transform="translate(12.4,477.8) rotate(-90)" x="0" y="0" text-anchor="middle" class="t">True Positive Rate</text>
<text x="185.3" y="337.8" text-anchor="middle" class="tb">(ii) PD-L1 ROC Curve</text>
<text x="184.8" y="358.7" text-anchor="middle" class="t">PD-L1 Receiver Operating Characteristic</text>
<rect x="333.8" y="513.4" width="11.6" height="5.4" fill="#3f3f3f"/>
<text x="353.0" y="521.3" class="t">Pancancer (Area = 0.626)</text>
<rect x="333.8" y="531.1" width="11.6" height="5.4" fill="#ef8cef"/>
<text x="353.0" y="539.7" class="t">BRCA (Area = 0.663)</text>
<rect x="333.8" y="548.5" width="11.6" height="5.4" fill="#e23f55"/>
<text x="353.0" y="558.4" class="t">LUAD (Area = 0.727)</text>
<rect x="333.8" y="567.2" width="11.6" height="5.4" fill="#4a8fd1"/>
<text x="353.0" y="576.6" class="t">STAD (Area = 0.601)</text>
<rect x="45.0" y="680.2" width="276.8" height="231.4" fill="#e5ecf6"/>
<line x1="58.3" y1="680.2" x2="58.3" y2="911.6" stroke="#fff" stroke-width="1.2"/>
<line x1="45.0" y1="900.4" x2="321.8" y2="900.4" stroke="#fff" stroke-width="1.2"/>
<line x1="111.0" y1="680.2" x2="111.0" y2="911.6" stroke="#fff" stroke-width="1.2"/>
<line x1="45.0" y1="858.8" x2="321.8" y2="858.8" stroke="#fff" stroke-width="1.2"/>
<line x1="163.7" y1="680.2" x2="163.7" y2="911.6" stroke="#fff" stroke-width="1.2"/>
<line x1="45.0" y1="817.1" x2="321.8" y2="817.1" stroke="#fff" stroke-width="1.2"/>
<line x1="216.4" y1="680.2" x2="216.4" y2="911.6" stroke="#fff" stroke-width="1.2"/>
<line x1="45.0" y1="775.5" x2="321.8" y2="775.5" stroke="#fff" stroke-width="1.2"/>
<line x1="269.1" y1="680.2" x2="269.1" y2="911.6" stroke="#fff" stroke-width="1.2"/>
<line x1="45.0" y1="733.8" x2="321.8" y2="733.8" stroke="#fff" stroke-width="1.2"/>
<line x1="321.8" y1="680.2" x2="321.8" y2="911.6" stroke="#fff" stroke-width="1.2"/>
<line x1="45.0" y1="692.2" x2="321.8" y2="692.2" stroke="#fff" stroke-width="1.2"/>
<g clip-path="url(#rocclip2)" fill="none" stroke-width="1.9" stroke-linejoin="miter">
<polyline points="58.06,900.62 58.06,898.47 58.16,898.47 58.16,896.32 58.25,896.32 58.25,894.17 58.35,894.17 58.35,892.02 58.45,892.02 58.45,889.87 58.55,889.87 58.55,887.72 58.65,887.72 58.65,886.23 59.84,886.23 59.84,884.15 59.99,884.15 59.99,882.08 60.13,882.08 60.13,880.00 60.28,880.00 60.28,877.92 60.43,877.92 60.43,875.85 60.58,875.85 60.58,872.88 62.06,872.88 62.06,870.41 62.31,870.41 62.31,867.93 62.56,867.93 62.56,865.46 62.80,865.46 62.80,862.49 65.03,862.49 65.03,860.27 65.59,860.27 65.59,858.04 66.14,858.04 66.14,855.82 66.70,855.82 66.70,853.59 67.26,853.59 67.26,852.11 68.74,852.11 68.74,850.13 68.99,850.13 68.99,848.15 69.23,848.15 69.23,846.17 69.48,846.17 69.48,844.19 69.73,844.19 69.73,842.22 69.98,842.22 69.98,840.24 70.22,840.24 70.22,838.26 70.72,838.26 70.72,836.28 71.21,836.28 71.21,834.30 71.71,834.30 71.71,833.56 73.93,833.56 73.93,832.82 76.16,832.82 76.16,830.59 78.38,830.59 78.38,828.37 80.61,828.37 80.61,827.63 83.20,827.63 83.20,826.88 85.80,826.88 85.80,824.91 86.05,824.91 86.05,822.93 86.30,822.93 86.30,820.95 86.54,820.95 86.54,819.84 88.77,819.84 88.77,818.72 90.99,818.72 90.99,815.01 92.48,815.01 92.48,814.27 94.70,814.27 94.70,813.53 96.93,813.53 96.93,811.31 97.30,811.31 97.30,809.08 97.67,809.08 97.67,806.85 98.04,806.85 98.04,804.63 98.41,804.63 98.41,803.15 100.64,803.15 100.64,801.66 102.86,801.66 102.86,799.68 103.61,799.68 103.61,797.71 104.35,797.71 104.35,795.73 105.09,795.73 105.09,794.24 107.31,794.24 107.31,792.02 108.80,792.02 108.80,789.79 110.28,789.79 110.28,786.82 113.25,786.82 113.25,784.85 114.24,784.85 114.24,782.87 115.23,782.87 115.23,780.89 116.22,780.89 116.22,779.78 118.44,779.78 118.44,778.66 120.67,778.66 120.67,776.62 121.04,776.62 121.04,774.58 121.41,774.58 121.41,772.54 121.78,772.54 121.78,770.50 122.15,770.50 122.15,770.01 124.13,770.01 124.13,769.52 126.11,769.52 126.11,769.02 128.09,769.02 128.09,769.02 130.31,769.02 130.31,769.02 132.54,769.02 132.54,765.31 134.02,765.31 134.02,762.34 135.50,762.34 135.50,759.75 136.99,759.75 136.99,757.15 138.47,757.15 138.47,754.93 141.44,754.93 141.44,752.70 144.41,752.70 144.41,751.59 146.63,751.59 146.63,750.47 148.86,750.47 148.86,749.36 151.08,749.36 151.08,748.25 153.31,748.25 153.31,747.75 155.29,747.75 155.29,747.26 157.27,747.26 157.27,746.77 159.24,746.77 159.24,745.28 161.47,745.28 161.47,743.80 163.69,743.80 163.69,743.06 165.92,743.06 165.92,742.31 168.15,742.31 168.15,741.20 170.37,741.20 170.37,740.09 172.60,740.09 172.60,737.12 175.56,737.12 175.56,733.41 178.53,733.41 178.53,732.67 180.76,732.67 180.76,731.93 182.98,731.93 182.98,728.96 185.95,728.96 185.95,727.73 188.42,727.73 188.42,726.49 190.90,726.49 190.90,725.25 193.37,725.25 193.37,724.02 195.84,724.02 195.84,722.78 198.31,722.78 198.31,721.54 200.79,721.54 200.79,721.05 202.76,721.05 202.76,720.55 204.74,720.55 204.74,720.06 206.72,720.06 206.72,719.97 208.76,719.97 208.76,719.87 210.80,719.87 210.80,719.78 212.84,719.78 212.84,719.69 214.88,719.69 214.88,719.60 216.92,719.60 216.92,719.50 218.96,719.50 218.96,719.41 221.00,719.41 221.00,719.32 223.04,719.32 223.04,718.20 225.27,718.20 225.27,717.09 227.49,717.09 227.49,716.50 229.57,716.50 229.57,715.91 231.65,715.91 231.65,715.31 233.72,715.31 233.72,714.72 235.80,714.72 235.80,714.12 237.88,714.12 237.88,713.38 239.86,713.38 239.86,712.64 241.83,712.64 241.83,711.90 243.81,711.90 243.81,711.53 246.04,711.53 246.04,711.16 248.26,711.16 248.26,710.79 250.49,710.79 250.49,710.42 252.72,710.42 252.72,709.67 255.19,709.67 255.19,708.93 257.66,708.93 257.66,708.19 260.13,708.19 260.13,707.20 262.61,707.20 262.61,706.21 265.08,706.21 265.08,705.22 267.55,705.22 267.55,704.48 270.02,704.48 270.02,703.74 272.50,703.74 272.50,703.00 274.97,703.00 274.97,702.75 277.44,702.75 277.44,702.50 279.92,702.50 279.92,702.26 282.39,702.26 282.39,701.76 284.86,701.76 284.86,701.27 287.33,701.27 287.33,700.77 289.81,700.77 289.81,700.28 292.28,700.28 292.28,699.78 294.75,699.78 294.75,699.29 297.23,699.29 297.23,698.55 299.70,698.55 299.70,697.80 302.17,697.80 302.17,697.06 304.64,697.06 304.64,696.57 307.12,696.57 307.12,696.07 309.59,696.07 309.59,695.58 312.06,695.58 312.06,694.84 314.44,694.84 314.44,694.09 316.81,694.09 316.81,693.35 319.18,693.35 319.18,692.61 321.56,692.61" stroke="#3f3f3f"/>
<polyline points="58.06,900.62 58.06,898.64 58.06,898.64 58.06,896.66 58.06,896.66 58.06,894.67 58.06,894.67 58.06,892.69 58.06,892.69 58.06,890.71 58.06,890.71 58.06,888.73 58.06,888.73 58.06,886.74 58.06,886.74 58.06,884.76 58.06,884.76 58.06,882.78 58.06,882.78 58.06,880.80 58.06,880.80 58.06,878.81 58.06,878.81 58.06,878.81 59.84,878.81 59.84,876.77 59.84,876.77 59.84,874.73 59.84,874.73 59.84,872.69 59.84,872.69 59.84,870.65 59.84,870.65 59.84,868.61 59.84,868.61 59.84,866.57 59.84,866.57 59.84,864.53 59.84,864.53 59.84,862.49 59.84,862.49 59.84,859.53 62.06,859.53 62.06,857.55 62.11,857.55 62.11,855.57 62.16,855.57 62.16,853.59 62.21,853.59 62.21,851.61 62.26,851.61 62.26,849.63 62.31,849.63 62.31,847.66 62.36,847.66 62.36,845.68 62.41,845.68 62.41,843.70 62.46,843.70 62.46,841.72 62.51,841.72 62.51,840.98 64.29,840.98 64.29,838.88 64.34,838.88 64.34,836.78 64.39,836.78 64.39,834.67 64.44,834.67 64.44,832.57 64.49,832.57 64.49,830.47 64.54,830.47 64.54,828.37 64.58,828.37 64.58,827.63 66.51,827.63 66.51,825.03 66.74,825.03 66.74,822.43 66.96,822.43 66.96,821.69 69.48,821.69 69.48,820.21 71.71,820.21 71.71,818.24 71.78,818.24 71.78,816.28 71.85,816.28 71.85,814.31 71.93,814.31 71.93,812.34 72.00,812.34 72.00,812.34 74.13,812.34 74.13,812.34 76.26,812.34 76.26,812.34 78.38,812.34 78.38,810.17 78.53,810.17 78.53,807.99 78.68,807.99 78.68,805.82 78.83,805.82 78.83,805.82 80.61,805.82 80.61,803.66 80.68,803.66 80.68,801.51 80.76,801.51 80.76,799.36 80.83,799.36 80.83,797.21 80.91,797.21 80.91,795.36 82.98,795.36 82.98,793.50 85.06,793.50 85.06,793.50 87.28,793.50 87.28,793.50 89.51,793.50 89.51,789.79 92.48,789.79 92.48,786.82 94.70,786.82 94.70,786.82 96.68,786.82 96.68,786.82 98.66,786.82 98.66,786.82 100.64,786.82 100.64,784.60 101.01,784.60 101.01,782.37 101.38,782.37 101.38,779.41 104.35,779.41 104.35,777.18 105.46,777.18 105.46,774.96 106.57,774.96 106.57,774.96 107.31,774.96 107.31,772.98 107.64,772.98 107.64,771.00 107.97,771.00 107.97,769.02 108.30,769.02 108.30,767.04 108.63,767.04 108.63,765.06 108.96,765.06 108.96,763.09 109.29,763.09 109.29,761.11 109.62,761.11 109.62,759.13 109.95,759.13 109.95,757.15 110.28,757.15 110.28,755.67 112.51,755.67 112.51,755.42 114.73,755.42 114.73,755.17 116.96,755.17 116.96,754.93 119.18,754.93 119.18,751.96 119.63,751.96 119.63,751.71 121.71,751.71 121.71,751.46 123.78,751.46 123.78,751.22 125.86,751.22 125.86,748.25 126.60,748.25 126.60,744.54 128.83,744.54 128.83,744.29 131.05,744.29 131.05,744.05 133.28,744.05 133.28,743.80 135.50,743.80 135.50,740.83 135.80,740.83 135.80,740.83 137.97,740.83 137.97,740.83 140.13,740.83 140.13,740.83 142.30,740.83 142.30,740.83 144.47,740.83 144.47,740.83 146.63,740.83 146.63,738.85 146.78,738.85 146.78,736.87 146.93,736.87 146.93,734.90 147.08,734.90 147.08,734.40 149.15,734.40 149.15,733.91 151.23,733.91 151.23,733.41 153.31,733.41 153.31,731.43 154.79,731.43 154.79,729.46 156.28,729.46 156.28,727.48 157.76,727.48 157.76,727.18 159.69,727.18 159.69,726.88 161.62,726.88 161.62,726.59 163.55,726.59 163.55,726.29 165.47,726.29 165.47,725.99 167.40,725.99 167.40,725.25 168.15,725.25 168.15,725.25 170.22,725.25 170.22,725.25 172.30,725.25 172.30,725.25 174.38,725.25 174.38,725.25 176.45,725.25 176.45,725.25 178.53,725.25 178.53,725.25 180.61,725.25 180.61,725.25 182.69,725.25 182.69,725.25 184.76,725.25 184.76,725.25 186.84,725.25 186.84,725.25 188.92,725.25 188.92,723.27 189.91,723.27 189.91,721.30 190.90,721.30 190.90,719.32 191.88,719.32 191.88,717.09 194.85,717.09 194.85,717.09 196.89,717.09 196.89,717.09 198.93,717.09 198.93,717.09 200.97,717.09 200.97,717.09 203.01,717.09 203.01,713.83 203.75,713.83 203.75,713.83 205.71,713.83 205.71,713.83 207.67,713.83 207.67,713.83 209.62,713.83 209.62,713.83 211.58,713.83 211.58,713.83 213.53,713.83 213.53,713.83 215.49,713.83 215.49,713.83 217.44,713.83 217.44,713.83 219.40,713.83 219.40,713.83 221.36,713.83 221.36,713.83 223.31,713.83 223.31,713.83 225.27,713.83 225.27,711.90 227.49,711.90 227.49,711.40 229.47,711.40 229.47,710.91 231.45,710.91 231.45,710.42 233.43,710.42 233.43,710.42 235.65,710.42 235.65,710.42 237.88,710.42 237.88,710.29 239.86,710.29 239.86,710.17 241.83,710.17 241.83,710.04 243.81,710.04 243.81,709.92 245.79,709.92 245.79,709.80 247.77,709.80 247.77,709.67 249.75,709.67 249.75,709.18 252.22,709.18 252.22,708.68 254.69,708.68 254.69,708.19 257.17,708.19 257.17,704.48 260.13,704.48 260.13,703.74 262.61,703.74 262.61,703.00 265.08,703.00 265.08,702.26 267.55,702.26 267.55,701.27 270.02,701.27 270.02,700.28 272.50,700.28 272.50,699.29 274.97,699.29 274.97,698.79 276.95,698.79 276.95,698.30 278.93,698.30 278.93,697.80 280.91,697.80 280.91,697.43 283.13,697.43 283.13,697.06 285.36,697.06 285.36,696.94 287.33,696.94 287.33,696.82 289.31,696.82 289.31,696.69 291.29,696.69 291.29,696.57 293.27,696.57 293.27,696.44 295.25,696.44 295.25,696.32 297.23,696.32 297.23,695.58 299.70,695.58 299.70,694.84 302.17,694.84 302.17,694.09 304.64,694.09 304.64,693.91 306.76,693.91 306.76,693.72 308.87,693.72 308.87,693.54 310.99,693.54 310.99,693.35 313.10,693.35 313.10,693.17 315.22,693.17 315.22,692.98 317.33,692.98 317.33,692.80 319.44,692.80 319.44,692.61 321.56,692.61" stroke="#ef8cef"/>
<polyline points="58.06,900.62 58.06,859.53 63.55,859.53 63.55,855.37 69.93,855.37 69.93,831.04 88.03,831.04 88.03,826.88 99.60,826.88 99.60,810.27 117.70,810.27 117.70,806.41 135.80,806.41 135.80,785.64 141.74,785.64 141.74,769.47 147.67,769.47 147.67,765.76 177.79,765.76 177.79,757.15 183.72,757.15 183.72,748.99 195.59,748.99 195.59,736.68 207.76,736.68 207.76,720.36 225.71,720.36 225.71,699.58 237.58,699.58 237.58,696.02 273.49,696.02 273.49,692.17 321.56,692.17" stroke="#e23f55"/>
<polyline points="58.06,900.62 58.06,888.46 62.51,888.46 62.51,882.08 66.51,882.08 66.51,869.91 83.28,869.91 83.28,844.99 90.99,844.99 90.99,839.50 99.15,839.50 99.15,832.82 102.86,832.82 102.86,826.88 107.31,826.88 107.31,814.72 119.18,814.72 119.18,790.09 123.93,790.09 123.93,771.69 127.79,771.69 127.79,759.38 135.80,759.38 135.80,747.51 148.12,747.51 148.12,734.90 208.20,734.90 208.20,728.96 243.07,728.96 243.07,723.03 251.97,723.03 251.97,716.05 297.23,716.05 297.23,710.71 305.39,710.71 305.39,704.48 309.09,704.48 309.09,697.80 315.03,695.58 321.56,692.61" stroke="#ec9049"/>
<polyline points="58.06,900.62 58.06,874.66 75.42,874.66 75.42,871.39 84.32,871.39 84.32,863.98 93.22,863.98 93.22,860.27 102.12,860.27 102.12,838.46 110.28,838.46 110.28,819.76 128.09,819.76 128.09,816.20 136.99,816.20 136.99,801.66 146.19,801.66 146.19,787.12 154.79,787.12 154.79,779.70 163.40,779.70 163.40,765.76 180.01,765.76 180.01,761.31 198.86,761.31 198.86,750.47 207.76,750.47 207.76,747.06 225.27,747.06 225.27,728.22 243.07,728.22 243.07,717.83 251.53,717.83 251.53,710.42 277.64,710.42 277.64,703.00 286.10,703.00 286.10,699.29 295.74,699.29 295.74,695.58 321.56,692.61" stroke="#4a8fd1"/>
<line x1="58.06" y1="900.62" x2="321.56" y2="692.61" stroke="#000" stroke-width="2.0" stroke-dasharray="9.6,9.6"/>
</g>
<clipPath id="rocclip2"><rect x="45.0" y="680.2" width="277.8" height="231.4"/></clipPath>
<text x="58.6" y="925.6" text-anchor="middle" class="t">0</text>
<text x="42" y="906.2" text-anchor="end" class="t">0</text>
<text x="109.2" y="925.6" text-anchor="middle" class="t">0.2</text>
<text x="42" y="864.6" text-anchor="end" class="t">0.2</text>
<text x="163.1" y="925.6" text-anchor="middle" class="t">0.4</text>
<text x="42" y="822.9" text-anchor="end" class="t">0.4</text>
<text x="216.9" y="925.6" text-anchor="middle" class="t">0.6</text>
<text x="42" y="781.3" text-anchor="end" class="t">0.6</text>
<text x="270.4" y="925.6" text-anchor="middle" class="t">0.8</text>
<text x="42" y="739.6" text-anchor="end" class="t">0.8</text>
<text x="322.2" y="925.6" text-anchor="middle" class="t">1</text>
<text x="42" y="698.0" text-anchor="end" class="t">1</text>
<text x="184.5" y="944.8" text-anchor="middle" class="t">False Positive Rate</text>
<text transform="translate(12.4,799.3) rotate(-90)" x="0" y="0" text-anchor="middle" class="t">True Positive Rate</text>
<text x="185.3" y="653.0" text-anchor="middle" class="tb">(iii) CTLA-4 ROC Curve</text>
<text x="184.8" y="672.2" text-anchor="middle" class="t">CTLA-4 Receiver Operating Characteristic</text>
<rect x="333.8" y="830.8" width="11.6" height="5.4" fill="#3f3f3f"/>
<text x="353.0" y="838.3" class="t">Pancancer (Area = 0.738)</text>
<rect x="333.8" y="848.4" width="11.6" height="5.4" fill="#ef8cef"/>
<text x="353.0" y="856.7" class="t">BRCA (Area = 0.794)</text>
<rect x="333.8" y="866.0" width="11.6" height="5.4" fill="#e23f55"/>
<text x="353.0" y="875.4" class="t">LUAD (Area = 0.711)</text>
<rect x="333.8" y="883.3" width="11.6" height="5.4" fill="#ec9049"/>
<text x="353.0" y="893.8" class="t">LUSC (Area = 0.689)</text>
<rect x="333.8" y="901.3" width="11.6" height="5.4" fill="#4a8fd1"/>
<text x="353.0" y="912.3" class="t">STAD (Area = 0.626)</text>
<rect x="45.0" y="998.2" width="278.3" height="232.6" fill="#e5ecf6"/>
<line x1="58.6" y1="998.2" x2="58.6" y2="1230.8" stroke="#fff" stroke-width="1.2"/>
<line x1="45.0" y1="1220.0" x2="323.3" y2="1220.0" stroke="#fff" stroke-width="1.2"/>
<line x1="111.5" y1="998.2" x2="111.5" y2="1230.8" stroke="#fff" stroke-width="1.2"/>
<line x1="45.0" y1="1178.0" x2="323.3" y2="1178.0" stroke="#fff" stroke-width="1.2"/>
<line x1="164.5" y1="998.2" x2="164.5" y2="1230.8" stroke="#fff" stroke-width="1.2"/>
<line x1="45.0" y1="1135.9" x2="323.3" y2="1135.9" stroke="#fff" stroke-width="1.2"/>
<line x1="217.4" y1="998.2" x2="217.4" y2="1230.8" stroke="#fff" stroke-width="1.2"/>
<line x1="45.0" y1="1093.9" x2="323.3" y2="1093.9" stroke="#fff" stroke-width="1.2"/>
<line x1="270.4" y1="998.2" x2="270.4" y2="1230.8" stroke="#fff" stroke-width="1.2"/>
<line x1="45.0" y1="1051.8" x2="323.3" y2="1051.8" stroke="#fff" stroke-width="1.2"/>
<line x1="323.3" y1="998.2" x2="323.3" y2="1230.8" stroke="#fff" stroke-width="1.2"/>
<line x1="45.0" y1="1009.8" x2="323.3" y2="1009.8" stroke="#fff" stroke-width="1.2"/>
<g clip-path="url(#rocclip3)" fill="none" stroke-width="1.9" stroke-linejoin="miter">
<polyline points="58.35,1219.36 58.35,1217.44 58.43,1217.44 58.43,1215.51 58.50,1215.51 58.50,1213.58 58.58,1213.58 58.58,1211.65 58.65,1211.65 58.65,1208.68 61.32,1208.68 61.32,1208.31 63.55,1208.31 63.55,1207.94 65.77,1207.94 65.77,1205.90 65.96,1205.90 65.96,1203.86 66.14,1203.86 66.14,1201.82 66.33,1201.82 66.33,1199.78 66.51,1199.78 66.51,1197.80 67.26,1197.80 67.26,1195.82 68.00,1195.82 68.00,1193.85 68.74,1193.85 68.74,1190.88 71.71,1190.88 71.71,1190.88 73.93,1190.88 73.93,1190.88 76.16,1190.88 76.16,1188.90 77.15,1188.90 77.15,1186.92 78.14,1186.92 78.14,1184.94 79.12,1184.94 79.12,1181.98 82.09,1181.98 82.09,1180.00 83.08,1180.00 83.08,1178.02 84.07,1178.02 84.07,1176.04 85.06,1176.04 85.06,1175.30 87.28,1175.30 87.28,1174.56 89.51,1174.56 89.51,1171.96 89.88,1171.96 89.88,1169.36 90.25,1169.36 90.25,1167.14 93.96,1167.14 93.96,1165.16 94.70,1165.16 94.70,1163.18 95.45,1163.18 95.45,1161.20 96.19,1161.20 96.19,1158.61 96.19,1158.61 96.19,1156.01 96.19,1156.01 96.19,1153.04 99.15,1153.04 99.15,1152.67 101.38,1152.67 101.38,1152.30 103.61,1152.30 103.61,1149.34 106.57,1149.34 106.57,1146.37 110.28,1146.37 110.28,1142.66 113.25,1142.66 113.25,1140.43 114.24,1140.43 114.24,1138.21 115.23,1138.21 115.23,1135.98 116.22,1135.98 116.22,1133.76 116.96,1133.76 116.96,1131.53 117.70,1131.53 117.70,1127.82 121.41,1127.82 121.41,1127.45 123.64,1127.45 123.64,1127.08 125.86,1127.08 125.86,1125.10 126.36,1125.10 126.36,1123.12 126.85,1123.12 126.85,1121.15 127.34,1121.15 127.34,1120.40 129.57,1120.40 129.57,1119.66 131.80,1119.66 131.80,1117.44 132.54,1117.44 132.54,1117.07 134.76,1117.07 134.76,1116.69 136.99,1116.69 136.99,1114.10 138.10,1114.10 138.10,1111.50 139.21,1111.50 139.21,1111.25 141.44,1111.25 141.44,1111.01 143.66,1111.01 143.66,1110.76 145.89,1110.76 145.89,1108.53 147.37,1108.53 147.37,1106.31 148.86,1106.31 148.86,1104.08 150.34,1104.08 150.34,1101.86 151.82,1101.86 151.82,1101.36 153.80,1101.36 153.80,1100.87 155.78,1100.87 155.78,1100.37 157.76,1100.37 157.76,1098.89 159.99,1098.89 159.99,1097.41 162.21,1097.41 162.21,1097.33 164.36,1097.33 164.36,1097.26 166.51,1097.26 166.51,1097.18 168.66,1097.18 168.66,1097.11 170.82,1097.11 170.82,1094.77 171.19,1094.77 171.19,1092.44 171.56,1092.44 171.56,1090.10 171.93,1090.10 171.93,1087.76 172.30,1087.76 172.30,1087.39 174.67,1087.39 174.67,1087.02 177.05,1087.02 177.05,1083.76 178.53,1083.76 178.53,1082.87 180.51,1082.87 180.51,1081.98 182.49,1081.98 182.49,1081.09 184.47,1081.09 184.47,1078.12 187.43,1078.12 187.43,1076.02 187.68,1076.02 187.68,1073.91 187.93,1073.91 187.93,1071.81 188.18,1071.81 188.18,1069.71 188.42,1069.71 188.42,1067.61 188.67,1067.61 188.67,1065.51 188.92,1065.51 188.92,1064.39 191.14,1064.39 191.14,1063.28 193.37,1063.28 193.37,1063.03 195.59,1063.03 195.59,1062.79 197.82,1062.79 197.82,1062.54 200.04,1062.54 200.04,1059.57 200.79,1059.57 200.79,1058.09 204.50,1058.09 204.50,1056.61 208.20,1056.61 208.20,1055.12 211.17,1055.12 211.17,1052.90 211.73,1052.90 211.73,1050.67 212.28,1050.67 212.28,1048.45 212.84,1048.45 212.84,1046.22 213.40,1046.22 213.40,1045.73 215.62,1045.73 215.62,1045.23 217.85,1045.23 217.85,1044.74 220.07,1044.74 220.07,1041.77 221.56,1041.77 221.56,1041.68 223.60,1041.68 223.60,1041.58 225.64,1041.58 225.64,1041.49 227.68,1041.49 227.68,1041.40 229.72,1041.40 229.72,1041.30 231.76,1041.30 231.76,1041.21 233.80,1041.21 233.80,1041.12 235.84,1041.12 235.84,1041.03 237.88,1041.03 237.88,1040.28 239.86,1040.28 239.86,1039.54 241.83,1039.54 241.83,1038.80 243.81,1038.80 243.81,1037.69 246.04,1037.69 246.04,1036.58 248.26,1036.58 248.26,1035.09 251.23,1035.09 251.23,1032.50 251.97,1032.50 251.97,1029.90 252.72,1029.90 252.72,1029.65 254.69,1029.65 254.69,1029.40 256.67,1029.40 256.67,1029.16 258.65,1029.16 258.65,1028.04 260.88,1028.04 260.88,1026.93 263.10,1026.93 263.10,1025.70 265.08,1025.70 265.08,1024.46 267.06,1024.46 267.06,1023.22 269.04,1023.22 269.04,1019.51 272.00,1019.51 272.00,1018.77 274.48,1018.77 274.48,1018.03 276.95,1018.03 276.95,1017.29 279.42,1017.29 279.42,1017.10 281.46,1017.10 281.46,1016.92 283.50,1016.92 283.50,1016.73 285.54,1016.73 285.54,1016.55 287.58,1016.55 287.58,1013.95 287.95,1013.95 287.95,1011.35 288.32,1011.35 288.32,1011.35 290.80,1011.35 290.80,1011.35 293.27,1011.35 293.27,1011.35 295.74,1011.35 295.74,1009.57 295.74,1009.57 295.74,1009.57 297.70,1009.57 297.70,1009.57 299.66,1009.57 299.66,1009.57 301.62,1009.57 301.62,1009.57 303.58,1009.57 303.58,1009.57 305.54,1009.57 305.54,1009.57 307.51,1009.57 307.51,1009.57 309.47,1009.57 309.47,1009.57 311.43,1009.57 311.43,1009.57 313.39,1009.57 313.39,1009.57 315.35,1009.57 315.35,1009.57 317.31,1009.57 317.31,1009.57 319.27,1009.57 319.27,1009.57 321.23,1009.57 321.23,1009.57 323.19,1009.57" stroke="#3f3f3f"/>
<polyline points="58.35,1219.36 58.35,1213.13 59.84,1213.13 59.84,1202.75 61.32,1202.75 61.32,1194.59 63.55,1194.59 63.55,1170.85 66.96,1170.85 66.96,1154.53 73.93,1154.53 73.93,1146.37 76.90,1146.37 76.90,1138.21 79.87,1138.21 79.87,1130.34 82.83,1130.34 82.83,1122.33 94.26,1122.33 94.26,1114.47 97.37,1114.47 97.37,1106.31 106.28,1106.31 106.28,1098.15 107.61,1098.15 107.61,1082.27 114.73,1082.27 114.73,1074.41 138.18,1074.41 138.18,1066.25 148.41,1066.25 148.41,1058.09 154.35,1058.09 154.35,1049.93 161.47,1049.93 161.47,1041.77 188.92,1041.77 188.92,1033.61 251.23,1033.61 251.23,1025.74 279.42,1025.74 279.42,1017.58 296.48,1017.58 296.48,1009.57 316.51,1009.57" stroke="#ef8cef"/>
<polyline points="58.35,1219.36 58.35,1214.62 64.29,1214.62 64.29,1166.40 84.76,1166.40 84.76,1156.46 97.67,1156.46 97.67,1151.12 104.35,1151.12 104.35,1145.63 117.70,1145.63 117.70,1130.05 131.05,1130.05 131.05,1124.85 144.11,1124.85 144.11,1114.47 151.08,1114.47 151.08,1098.59 170.82,1098.59 170.82,1072.63 204.05,1072.63 204.05,1067.29 210.13,1067.29 210.13,1062.09 230.16,1062.09 230.16,1056.90 243.37,1056.90 243.37,1051.41 256.42,1051.41 256.42,1046.22 270.22,1046.22 270.22,1030.34 289.51,1030.34 289.51,1025.15 303.16,1025.15 303.16,1020.26 316.51,1020.26 316.51,1009.57 323.19,1009.57" stroke="#4a8fd1"/>
<line x1="58.35" y1="1219.36" x2="323.19" y2="1009.57" stroke="#000" stroke-width="2.0" stroke-dasharray="9.6,9.6"/>
</g>
<clipPath id="rocclip3"><rect x="45.0" y="998.2" width="279.3" height="232.6"/></clipPath>
<text x="58.6" y="1243.6" text-anchor="middle" class="t">0</text>
<text x="42" y="1225.8" text-anchor="end" class="t">0</text>
<text x="109.2" y="1243.6" text-anchor="middle" class="t">0.2</text>
<text x="42" y="1183.8" text-anchor="end" class="t">0.2</text>
<text x="163.1" y="1243.6" text-anchor="middle" class="t">0.4</text>
<text x="42" y="1141.7" text-anchor="end" class="t">0.4</text>
<text x="216.9" y="1243.6" text-anchor="middle" class="t">0.6</text>
<text x="42" y="1099.7" text-anchor="end" class="t">0.6</text>
<text x="270.4" y="1243.6" text-anchor="middle" class="t">0.8</text>
<text x="42" y="1057.6" text-anchor="end" class="t">0.8</text>
<text x="323.0" y="1243.6" text-anchor="middle" class="t">1</text>
<text x="42" y="1015.6" text-anchor="end" class="t">1</text>
<text x="184.5" y="1263.1" text-anchor="middle" class="t">False Positive Rate</text>
<text transform="translate(12.4,1122.0) rotate(-90)" x="0" y="0" text-anchor="middle" class="t">True Positive Rate</text>
<text x="185.3" y="971.6" text-anchor="middle" class="tb">(iv) HRD ROC Curve</text>
<text x="184.8" y="991.7" text-anchor="middle" class="t">HRD Receiver Operating Characteristic</text>
<rect x="333.8" y="1186.9" width="11.6" height="5.4" fill="#3f3f3f"/>
<text x="353.0" y="1194.1" class="t">Pancancer (Area = 0.651)</text>
<rect x="333.8" y="1204.7" width="11.6" height="5.4" fill="#ef8cef"/>
<text x="353.0" y="1212.8" class="t">BRCA (Area = 0.774)</text>
<rect x="333.8" y="1222.4" width="11.6" height="5.4" fill="#4a8fd1"/>
<text x="353.0" y="1230.8" class="t">STAD (Area = 0.628)</text>
<rect x="45.0" y="1316.5" width="276.8" height="231.9" fill="#e5ecf6"/>
<line x1="58.3" y1="1316.5" x2="58.3" y2="1548.4" stroke="#fff" stroke-width="1.2"/>
<line x1="45.0" y1="1536.8" x2="321.8" y2="1536.8" stroke="#fff" stroke-width="1.2"/>
<line x1="111.0" y1="1316.5" x2="111.0" y2="1548.4" stroke="#fff" stroke-width="1.2"/>
<line x1="45.0" y1="1495.1" x2="321.8" y2="1495.1" stroke="#fff" stroke-width="1.2"/>
<line x1="163.7" y1="1316.5" x2="163.7" y2="1548.4" stroke="#fff" stroke-width="1.2"/>
<line x1="45.0" y1="1453.4" x2="321.8" y2="1453.4" stroke="#fff" stroke-width="1.2"/>
<line x1="216.4" y1="1316.5" x2="216.4" y2="1548.4" stroke="#fff" stroke-width="1.2"/>
<line x1="45.0" y1="1411.8" x2="321.8" y2="1411.8" stroke="#fff" stroke-width="1.2"/>
<line x1="269.1" y1="1316.5" x2="269.1" y2="1548.4" stroke="#fff" stroke-width="1.2"/>
<line x1="45.0" y1="1370.1" x2="321.8" y2="1370.1" stroke="#fff" stroke-width="1.2"/>
<line x1="321.8" y1="1316.5" x2="321.8" y2="1548.4" stroke="#fff" stroke-width="1.2"/>
<line x1="45.0" y1="1328.4" x2="321.8" y2="1328.4" stroke="#fff" stroke-width="1.2"/>
<g clip-path="url(#rocclip4)" fill="none" stroke-width="1.9" stroke-linejoin="miter">
<polyline points="57.61,1536.62 57.61,1534.59 57.76,1534.59 57.76,1532.56 57.91,1532.56 57.91,1530.53 58.06,1530.53 58.06,1528.49 58.20,1528.49 58.20,1526.46 58.35,1526.46 58.35,1524.43 58.50,1524.43 58.50,1522.39 58.65,1522.39 58.65,1520.36 58.80,1520.36 58.80,1518.33 58.95,1518.33 58.95,1516.30 59.09,1516.30 59.09,1513.82 59.84,1513.82 59.84,1511.35 60.58,1511.35 60.58,1508.88 61.32,1508.88 61.32,1506.80 61.91,1506.80 61.91,1504.72 62.51,1504.72 62.51,1502.65 63.10,1502.65 63.10,1500.57 63.69,1500.57 63.69,1498.49 64.29,1498.49 64.29,1496.42 64.73,1496.42 64.73,1494.34 65.18,1494.34 65.18,1492.26 65.62,1492.26 65.62,1490.18 66.07,1490.18 66.07,1488.11 66.51,1488.11 66.51,1485.88 66.70,1485.88 66.70,1483.66 66.88,1483.66 66.88,1481.43 67.07,1481.43 67.07,1479.20 67.26,1479.20 67.26,1476.61 68.37,1476.61 68.37,1474.01 69.48,1474.01 69.48,1471.97 69.67,1471.97 69.67,1469.93 69.85,1469.93 69.85,1467.89 70.04,1467.89 70.04,1465.85 70.22,1465.85 70.22,1463.63 70.78,1463.63 70.78,1461.40 71.34,1461.40 71.34,1459.18 71.89,1459.18 71.89,1456.95 72.45,1456.95 72.45,1454.35 73.56,1454.35 73.56,1451.76 74.67,1451.76 74.67,1449.16 76.16,1449.16 76.16,1446.56 77.64,1446.56 77.64,1444.59 79.12,1444.59 79.12,1442.61 80.61,1442.61 80.61,1440.63 82.09,1440.63 82.09,1438.65 83.08,1438.65 83.08,1436.67 84.07,1436.67 84.07,1434.69 85.06,1434.69 85.06,1432.47 86.17,1432.47 86.17,1430.24 87.28,1430.24 87.28,1428.02 89.14,1428.02 89.14,1425.79 90.99,1425.79 90.99,1424.90 93.59,1424.90 93.59,1424.01 96.19,1424.01 96.19,1423.48 98.12,1423.48 98.12,1422.94 100.04,1422.94 100.04,1422.41 101.97,1422.41 101.97,1421.88 103.90,1421.88 103.90,1421.34 105.83,1421.34 105.83,1419.36 106.33,1419.36 106.33,1417.38 106.82,1417.38 106.82,1415.41 107.31,1415.41 107.31,1413.43 108.30,1413.43 108.30,1411.45 109.29,1411.45 109.29,1409.47 110.28,1409.47 110.28,1407.49 111.77,1407.49 111.77,1405.52 113.25,1405.52 113.25,1403.54 114.73,1403.54 114.73,1401.31 116.22,1401.31 116.22,1399.09 117.70,1399.09 117.70,1396.61 118.69,1396.61 118.69,1394.14 119.68,1394.14 119.68,1391.67 120.67,1391.67 120.67,1390.55 122.89,1390.55 122.89,1389.44 125.12,1389.44 125.12,1387.22 127.34,1387.22 127.34,1384.99 129.57,1384.99 129.57,1383.88 131.80,1383.88 131.80,1382.77 134.02,1382.77 134.02,1380.91 136.25,1380.91 136.25,1379.06 138.47,1379.06 138.47,1376.83 140.70,1376.83 140.70,1374.61 142.92,1374.61 142.92,1373.62 144.90,1373.62 144.90,1372.63 146.88,1372.63 146.88,1371.64 148.86,1371.64 148.86,1370.65 150.84,1370.65 150.84,1369.66 152.81,1369.66 152.81,1368.67 154.79,1368.67 154.79,1368.18 156.77,1368.18 156.77,1367.68 158.75,1367.68 158.75,1367.19 160.73,1367.19 160.73,1366.94 162.71,1366.94 162.71,1366.69 164.68,1366.69 164.68,1366.45 166.66,1366.45 166.66,1366.20 168.64,1366.20 168.64,1365.95 170.62,1365.95 170.62,1365.70 172.60,1365.70 172.60,1363.11 173.34,1363.11 173.34,1360.51 174.08,1360.51 174.08,1359.52 176.55,1359.52 176.55,1358.53 179.03,1358.53 179.03,1357.54 181.50,1357.54 181.50,1357.10 183.58,1357.10 183.58,1356.65 185.65,1356.65 185.65,1356.21 187.73,1356.21 187.73,1355.76 189.81,1355.76 189.81,1355.32 191.88,1355.32 191.88,1352.72 193.37,1352.72 193.37,1350.12 194.85,1350.12 194.85,1349.14 196.83,1349.14 196.83,1348.15 198.81,1348.15 198.81,1347.16 200.79,1347.16 200.79,1346.42 203.26,1346.42 203.26,1345.67 205.73,1345.67 205.73,1344.93 208.20,1344.93 208.20,1344.44 210.68,1344.44 210.68,1343.94 213.15,1343.94 213.15,1343.45 215.62,1343.45 215.62,1343.20 218.10,1343.20 218.10,1342.95 220.57,1342.95 220.57,1342.71 223.04,1342.71 223.04,1342.39 225.16,1342.39 225.16,1342.07 227.28,1342.07 227.28,1341.75 229.40,1341.75 229.40,1341.43 231.52,1341.43 231.52,1341.12 233.64,1341.12 233.64,1340.80 235.76,1340.80 235.76,1340.48 237.88,1340.48 237.88,1339.95 240.00,1339.95 240.00,1339.42 242.12,1339.42 242.12,1338.89 244.24,1338.89 244.24,1338.36 246.36,1338.36 246.36,1337.83 248.48,1337.83 248.48,1337.30 250.60,1337.30 250.60,1336.77 252.72,1336.77 252.72,1336.45 254.83,1336.45 254.83,1336.14 256.95,1336.14 256.95,1335.82 259.07,1335.82 259.07,1335.50 261.19,1335.50 261.19,1335.18 263.31,1335.18 263.31,1334.86 265.43,1334.86 265.43,1334.55 267.55,1334.55 267.55,1334.12 269.67,1334.12 269.67,1333.70 271.79,1333.70 271.79,1333.27 273.91,1333.27 273.91,1332.85 276.03,1332.85 276.03,1332.43 278.15,1332.43 278.15,1332.00 280.27,1332.00 280.27,1331.58 282.39,1331.58 282.39,1331.37 284.51,1331.37 284.51,1331.15 286.63,1331.15 286.63,1330.94 288.75,1330.94 288.75,1330.73 290.87,1330.73 290.87,1330.52 292.99,1330.52 292.99,1330.31 295.11,1330.31 295.11,1330.09 297.23,1330.09 297.23,1329.97 299.23,1329.97 299.23,1329.85 301.23,1329.85 301.23,1329.72 303.23,1329.72 303.23,1329.60 305.24,1329.60 305.24,1329.48 307.24,1329.48 307.24,1329.35 309.24,1329.35 309.24,1329.23 311.25,1329.23 311.25,1329.11 313.25,1329.11 313.25,1328.98 315.25,1328.98 315.25,1328.86 317.26,1328.86 317.26,1328.73 319.26,1328.73 319.26,1328.61 321.26,1328.61" stroke="#3f3f3f"/>
<polyline points="57.61,1536.62 57.61,1534.68 57.67,1534.68 57.67,1532.74 57.73,1532.74 57.73,1530.80 57.80,1530.80 57.80,1528.86 57.86,1528.86 57.86,1526.92 57.92,1526.92 57.92,1524.98 57.98,1524.98 57.98,1523.04 58.04,1523.04 58.04,1521.09 58.11,1521.09 58.11,1519.15 58.17,1519.15 58.17,1517.21 58.23,1517.21 58.23,1515.27 58.29,1515.27 58.29,1513.33 58.35,1513.33 58.35,1510.86 59.34,1510.86 59.34,1508.38 60.33,1508.38 60.33,1505.91 61.32,1505.91 61.32,1503.97 61.39,1503.97 61.39,1502.03 61.46,1502.03 61.46,1500.08 61.53,1500.08 61.53,1498.14 61.60,1498.14 61.60,1496.20 61.67,1496.20 61.67,1494.25 61.74,1494.25 61.74,1492.31 61.82,1492.31 61.82,1490.37 61.89,1490.37 61.89,1488.42 61.96,1488.42 61.96,1486.48 62.03,1486.48 62.03,1484.54 62.10,1484.54 62.10,1482.60 62.17,1482.60 62.17,1480.65 62.24,1480.65 62.24,1478.71 62.31,1478.71 62.31,1476.77 62.38,1476.77 62.38,1474.82 62.45,1474.82 62.45,1472.88 62.52,1472.88 62.52,1470.94 62.59,1470.94 62.59,1469.00 62.66,1469.00 62.66,1467.05 62.73,1467.05 62.73,1465.11 62.80,1465.11 62.80,1464.37 65.03,1464.37 65.03,1462.39 65.28,1462.39 65.28,1460.41 65.52,1460.41 65.52,1458.43 65.77,1458.43 65.77,1457.69 68.00,1457.69 68.00,1455.41 68.09,1455.41 68.09,1453.12 68.18,1453.12 68.18,1450.84 68.26,1450.84 68.26,1448.55 68.35,1448.55 68.35,1446.27 68.44,1446.27 68.44,1446.04 70.82,1446.04 70.82,1445.82 73.19,1445.82 73.19,1442.11 73.49,1442.11 73.49,1442.01 75.86,1442.01 75.86,1441.91 78.23,1441.91 78.23,1441.82 80.61,1441.82 80.61,1439.74 80.98,1439.74 80.98,1437.66 81.35,1437.66 81.35,1436.92 85.06,1436.92 85.06,1435.44 85.80,1435.44 85.80,1435.29 87.73,1435.29 87.73,1435.14 89.66,1435.14 89.66,1434.99 91.59,1434.99 91.59,1434.84 93.52,1434.84 93.52,1434.69 95.45,1434.69 95.45,1432.62 95.59,1432.62 95.59,1430.54 95.74,1430.54 95.74,1428.46 95.89,1428.46 95.89,1426.39 96.04,1426.39 96.04,1424.31 96.19,1424.31 96.19,1423.57 98.78,1423.57 98.78,1422.82 101.38,1422.82 101.38,1420.60 101.57,1420.60 101.57,1418.37 101.75,1418.37 101.75,1416.15 101.94,1416.15 101.94,1413.92 102.12,1413.92 102.12,1413.18 104.72,1413.18 104.72,1412.44 107.31,1412.44 107.31,1408.73 110.28,1408.73 110.28,1407.49 112.26,1407.49 112.26,1406.26 114.24,1406.26 114.24,1405.02 116.22,1405.02 116.22,1403.54 118.19,1403.54 118.19,1402.05 120.17,1402.05 120.17,1400.57 122.15,1400.57 122.15,1399.75 124.19,1399.75 124.19,1398.94 126.23,1398.94 126.23,1398.12 128.27,1398.12 128.27,1397.31 130.31,1397.31 130.31,1397.31 132.24,1397.31 132.24,1397.31 134.17,1397.31 134.17,1397.31 136.10,1397.31 136.10,1397.31 138.03,1397.31 138.03,1397.31 139.96,1397.31 139.96,1395.28 140.04,1395.28 140.04,1393.25 140.12,1393.25 140.12,1391.22 140.20,1391.22 140.20,1389.19 140.29,1389.19 140.29,1387.17 140.37,1387.17 140.37,1385.14 140.45,1385.14 140.45,1383.11 140.53,1383.11 140.53,1381.08 140.61,1381.08 140.61,1379.06 140.70,1379.06 140.70,1377.20 142.92,1377.20 142.92,1375.35 145.15,1375.35 145.15,1373.12 147.00,1373.12 147.00,1370.90 148.86,1370.90 148.86,1370.15 150.84,1370.15 150.84,1369.41 152.81,1369.41 152.81,1368.67 154.79,1368.67 154.79,1366.45 157.02,1366.45 157.02,1364.22 159.24,1364.22 159.24,1364.10 161.47,1364.10 161.47,1363.97 163.69,1363.97 163.69,1363.85 165.92,1363.85 165.92,1363.73 168.15,1363.73 168.15,1363.60 170.37,1363.60 170.37,1363.48 172.60,1363.48 172.60,1360.51 174.08,1360.51 174.08,1359.40 176.31,1359.40 176.31,1358.28 178.53,1358.28 178.53,1358.10 180.76,1358.10 180.76,1357.91 182.98,1357.91 182.98,1357.73 185.21,1357.73 185.21,1357.54 187.43,1357.54 187.43,1356.31 189.41,1356.31 189.41,1355.07 191.39,1355.07 191.39,1353.83 193.37,1353.83 193.37,1353.09 195.84,1353.09 195.84,1352.35 198.31,1352.35 198.31,1351.61 200.79,1351.61 200.79,1350.87 203.01,1350.87 203.01,1350.12 205.24,1350.12 205.24,1349.14 207.71,1349.14 207.71,1348.15 210.18,1348.15 210.18,1347.16 212.66,1347.16 212.66,1346.86 214.73,1346.86 214.73,1346.56 216.81,1346.56 216.81,1346.27 218.89,1346.27 218.89,1345.97 220.96,1345.97 220.96,1345.67 223.04,1345.67 223.04,1345.43 225.51,1345.43 225.51,1345.18 227.99,1345.18 227.99,1344.93 230.46,1344.93 230.46,1344.44 232.93,1344.44 232.93,1343.94 235.41,1343.94 235.41,1343.45 237.88,1343.45 237.88,1342.92 240.00,1342.92 240.00,1342.39 242.12,1342.39 242.12,1341.86 244.24,1341.86 244.24,1341.33 246.36,1341.33 246.36,1340.80 248.48,1340.80 248.48,1340.27 250.60,1340.27 250.60,1339.74 252.72,1339.74 252.72,1339.31 254.83,1339.31 254.83,1338.89 256.95,1338.89 256.95,1338.47 259.07,1338.47 259.07,1338.04 261.19,1338.04 261.19,1337.62 263.31,1337.62 263.31,1337.20 265.43,1337.20 265.43,1336.77 267.55,1336.77 267.55,1336.35 269.67,1336.35 269.67,1335.92 271.79,1335.92 271.79,1335.50 273.91,1335.50 273.91,1335.08 276.03,1335.08 276.03,1334.65 278.15,1334.65 278.15,1334.23 280.27,1334.23 280.27,1333.80 282.39,1333.80 282.39,1333.38 284.51,1333.38 284.51,1332.96 286.63,1332.96 286.63,1332.53 288.75,1332.53 288.75,1332.11 290.87,1332.11 290.87,1331.68 292.99,1331.68 292.99,1331.26 295.11,1331.26 295.11,1330.84 297.23,1330.84 297.23,1330.71 299.23,1330.71 299.23,1330.59 301.23,1330.59 301.23,1330.47 303.23,1330.47 303.23,1330.34 305.24,1330.34 305.24,1330.22 307.24,1330.22 307.24,1330.09 309.24,1330.09 309.24,1329.97 311.25,1329.97 311.25,1329.85 313.25,1329.85 313.25,1329.72 315.25,1329.72 315.25,1329.60 317.26,1329.60 317.26,1329.48 319.26,1329.48 319.26,1329.35 321.26,1329.35" stroke="#ef8cef"/>
<polyline points="57.61,1536.62 57.61,1453.24 90.25,1453.24 90.25,1449.53 96.93,1449.53 96.93,1425.79 104.35,1425.79 104.35,1421.64 110.28,1421.64 110.28,1418.08 117.70,1418.08 117.70,1414.66 123.64,1414.66 123.64,1411.40 136.25,1411.40 136.25,1400.87 150.34,1400.87 150.34,1393.89 156.57,1393.89 156.57,1376.83 176.31,1376.83 176.31,1373.12 189.36,1373.12 189.36,1366.45 196.34,1366.45 196.34,1363.18 209.24,1363.18 209.24,1355.76 216.66,1355.76 216.66,1345.67 222.60,1345.67 222.60,1342.41 228.98,1342.41 228.98,1338.55 242.33,1338.55 242.33,1334.99 274.97,1334.99 274.97,1328.17 295.74,1328.17 295.74,1329.35 321.26,1329.35" stroke="#e23f55"/>
<polyline points="57.61,1536.62 57.61,1530.39 61.32,1530.39 61.32,1522.53 68.74,1522.53 68.74,1495.23 81.05,1495.23 81.05,1474.46 88.77,1474.46 88.77,1460.21 96.48,1460.21 96.48,1446.27 111.77,1446.27 111.77,1439.44 123.34,1439.44 123.34,1432.47 131.35,1432.47 131.35,1425.79 135.50,1425.79 135.50,1411.70 138.77,1411.70 138.77,1404.72 177.79,1404.72 177.79,1390.63 185.65,1390.63 185.65,1376.39 189.66,1376.39 189.66,1370.15 193.37,1370.15 193.37,1342.41 263.10,1342.41 263.10,1335.29 312.06,1335.29 321.26,1328.61" stroke="#ec9049"/>
<polyline points="57.61,1536.62 57.61,1529.20 65.77,1529.20 65.77,1517.78 74.23,1517.78 74.23,1487.36 82.09,1487.36 82.09,1468.52 90.25,1468.52 90.25,1460.66 107.02,1460.66 107.02,1441.82 123.34,1441.82 123.34,1430.54 131.80,1430.54 131.80,1426.53 139.96,1426.53 139.96,1422.53 148.41,1422.53 148.41,1415.41 181.20,1415.41 181.20,1411.70 189.66,1411.70 189.66,1396.56 197.82,1396.56 197.82,1384.99 214.14,1384.99 214.14,1373.57 222.60,1373.57 222.60,1346.86 272.00,1346.86 272.00,1343.15 280.16,1343.15 280.16,1339.00 288.62,1339.00 288.62,1335.29 297.23,1335.29 297.23,1328.61 321.26,1328.61" stroke="#4a8fd1"/>
<polyline points="57.61,1536.62 57.61,1532.62 66.51,1532.62 66.51,1485.14 75.42,1485.14 75.42,1461.85 84.32,1461.85 84.32,1398.34 92.77,1398.34 92.77,1394.93 101.38,1394.93 101.38,1359.47 110.28,1359.47 110.28,1347.60 128.09,1347.60 128.09,1343.45 154.50,1343.45 154.50,1339.44 172.30,1339.44 172.30,1335.58 189.66,1335.58 189.66,1331.58 321.26,1331.58 321.26,1328.61" stroke="#7d45cf"/>
<line x1="57.61" y1="1536.62" x2="321.26" y2="1328.61" stroke="#000" stroke-width="2.0" stroke-dasharray="9.6,9.6"/>
</g>
<clipPath id="rocclip4"><rect x="45.0" y="1316.5" width="277.8" height="231.9"/></clipPath>
<text x="58.6" y="1564.8" text-anchor="middle" class="t">0</text>
<text x="42" y="1542.6" text-anchor="end" class="t">0</text>
<text x="109.2" y="1564.8" text-anchor="middle" class="t">0.2</text>
<text x="42" y="1500.9" text-anchor="end" class="t">0.2</text>
<text x="163.1" y="1564.8" text-anchor="middle" class="t">0.4</text>
<text x="42" y="1459.2" text-anchor="end" class="t">0.4</text>
<text x="216.9" y="1564.8" text-anchor="middle" class="t">0.6</text>
<text x="42" y="1417.6" text-anchor="end" class="t">0.6</text>
<text x="270.4" y="1564.8" text-anchor="middle" class="t">0.8</text>
<text x="42" y="1375.9" text-anchor="end" class="t">0.8</text>
<text x="322.2" y="1564.8" text-anchor="middle" class="t">1</text>
<text x="42" y="1334.2" text-anchor="end" class="t">1</text>
<text x="184.5" y="1583.2" text-anchor="middle" class="t">False Positive Rate</text>
<text transform="translate(12.4,1442.9) rotate(-90)" x="0" y="0" text-anchor="middle" class="t">True Positive Rate</text>
<text x="185.3" y="1290.3" text-anchor="middle" class="tb">(v) TIGIT ROC Curve</text>
<text x="184.8" y="1311.5" text-anchor="middle" class="t">TIGIT Receiver Operating Characteristic</text>
<rect x="333.8" y="1448.8" width="11.6" height="5.4" fill="#3f3f3f"/>
<text x="353.0" y="1456.3" class="t">Pancancer (Area = 0.792)</text>
<rect x="333.8" y="1466.9" width="11.6" height="5.4" fill="#ef8cef"/>
<text x="353.0" y="1475.0" class="t">BRCA (Area = 0.788)</text>
<rect x="333.8" y="1484.6" width="11.6" height="5.4" fill="#e23f55"/>
<text x="353.0" y="1493.7" class="t">LUAD (Area = 0.766)</text>
<rect x="333.8" y="1502.7" width="11.6" height="5.4" fill="#ec9049"/>
<text x="353.0" y="1512.4" class="t">LUSC (Area = 0.706)</text>
<rect x="333.8" y="1520.7" width="11.6" height="5.4" fill="#4a8fd1"/>
<text x="353.0" y="1530.8" class="t">STAD (Area = 0.657)</text>
<rect x="333.8" y="1538.5" width="11.6" height="5.4" fill="#7d45cf"/>
<text x="353.0" y="1549.6" class="t">SKCM (Area = 0.864)</text>
<line x1="1156.0" y1="54.0" x2="1156.0" y2="207.2" stroke="#ebebeb" stroke-width="1.4"/>
<line x1="1219.1" y1="54.0" x2="1219.1" y2="207.2" stroke="#ebebeb" stroke-width="1.4"/>
<line x1="1282.3" y1="54.0" x2="1282.3" y2="207.2" stroke="#ebebeb" stroke-width="1.4"/>
<line x1="1345.4" y1="54.0" x2="1345.4" y2="207.2" stroke="#ebebeb" stroke-width="1.4"/>
<line x1="1408.6" y1="54.0" x2="1408.6" y2="207.2" stroke="#ebebeb" stroke-width="1.4"/>
<line x1="1124.4" y1="54.0" x2="1124.4" y2="207.2" stroke="#ebebeb" stroke-width="1.4"/>
<line x1="1187.6" y1="54.0" x2="1187.6" y2="207.2" stroke="#ebebeb" stroke-width="1.4"/>
<line x1="1250.7" y1="54.0" x2="1250.7" y2="207.2" stroke="#ebebeb" stroke-width="1.4"/>
<line x1="1313.9" y1="54.0" x2="1313.9" y2="207.2" stroke="#ebebeb" stroke-width="1.4"/>
<line x1="1377.0" y1="54.0" x2="1377.0" y2="207.2" stroke="#ebebeb" stroke-width="1.4"/>
<line x1="1440.2" y1="54.0" x2="1440.2" y2="207.2" stroke="#ebebeb" stroke-width="1.4"/>
<line x1="1108.0" y1="71.4" x2="1469.4" y2="71.4" stroke="#ebebeb" stroke-width="1.4"/>
<line x1="1108.0" y1="100.7" x2="1469.4" y2="100.7" stroke="#ebebeb" stroke-width="1.4"/>
<line x1="1108.0" y1="130.5" x2="1469.4" y2="130.5" stroke="#ebebeb" stroke-width="1.4"/>
<line x1="1108.0" y1="160.1" x2="1469.4" y2="160.1" stroke="#ebebeb" stroke-width="1.4"/>
<line x1="1108.0" y1="189.3" x2="1469.4" y2="189.3" stroke="#ebebeb" stroke-width="1.4"/>
<line x1="1126.4" y1="71.4" x2="1156.5" y2="71.4" stroke="#000" stroke-width="1.5"/>
<line x1="1298.2" y1="71.4" x2="1452.8" y2="71.4" stroke="#000" stroke-width="2"/>
<rect x="1156.5" y="64.4" width="141.7" height="14.8" fill="#e26c6c" stroke="#000" stroke-width="1.3"/>
<rect x="1201.1" y="64.4" width="6.0" height="14.8" fill="#000"/>
<line x1="1136.1" y1="100.7" x2="1149.5" y2="100.7" stroke="#000" stroke-width="1.5"/>
<line x1="1163.1" y1="100.7" x2="1176.1" y2="100.7" stroke="#000" stroke-width="2"/>
<rect x="1149.5" y="94.1" width="13.6" height="13.6" fill="#e26c6c" stroke="#000" stroke-width="1.3"/>
<rect x="1154.5" y="94.1" width="4.4" height="13.6" fill="#000"/>
<line x1="1140.1" y1="130.5" x2="1145.1" y2="130.5" stroke="#000" stroke-width="1.5"/>
<line x1="1152.1" y1="130.5" x2="1157.1" y2="130.5" stroke="#000" stroke-width="2"/>
<rect x="1145.1" y="123.7" width="7.0" height="14.0" fill="#e26c6c" stroke="#000" stroke-width="1.3"/>
<rect x="1145.1" y="123.7" width="6.0" height="14.0" fill="#000"/>
<line x1="1125.6" y1="160.1" x2="1133.5" y2="160.1" stroke="#000" stroke-width="1.5"/>
<line x1="1143.7" y1="160.1" x2="1146.1" y2="160.1" stroke="#000" stroke-width="2"/>
<rect x="1133.5" y="153.1" width="10.2" height="14.0" fill="#e26c6c" stroke="#000" stroke-width="1.3"/>
<rect x="1136.1" y="153.1" width="4.0" height="14.0" fill="#000"/>
<line x1="1123.0" y1="189.3" x2="1123.6" y2="189.3" stroke="#000" stroke-width="1.5"/>
<line x1="1128.0" y1="189.3" x2="1129.0" y2="189.3" stroke="#000" stroke-width="2"/>
<rect x="1123.6" y="182.5" width="4.4" height="13.6" fill="#e26c6c" stroke="#000" stroke-width="1.3"/>
<rect x="1122.0" y="182.5" width="6.0" height="13.6" fill="#000"/>
<g fill="rgba(20,20,20,0.82)"><circle cx="1125.6" cy="63.6" r="2.2"/><circle cx="1126.0" cy="65.6" r="2.2"/><circle cx="1126.4" cy="67.6" r="2.2"/><circle cx="1137.7" cy="64.4" r="2.2"/><circle cx="1143.7" cy="65.6" r="2.2"/><circle cx="1149.1" cy="69.6" r="2.2"/><circle cx="1171.7" cy="60.4" r="2.2"/><circle cx="1186.1" cy="61.2" r="2.2"/><circle cx="1196.1" cy="59.6" r="2.2"/><circle cx="1203.1" cy="63.6" r="2.2"/><circle cx="1131.7" cy="77.6" r="2.2"/><circle cx="1132.5" cy="80.0" r="2.2"/><circle cx="1132.1" cy="83.0" r="2.2"/><circle cx="1179.1" cy="81.6" r="2.2"/><circle cx="1188.1" cy="83.2" r="2.2"/><circle cx="1218.5" cy="82.6" r="2.2"/><circle cx="1253.8" cy="80.0" r="2.2"/><circle cx="1264.2" cy="80.6" r="2.2"/><circle cx="1298.6" cy="60.4" r="2.2"/><circle cx="1299.2" cy="66.0" r="2.2"/><circle cx="1309.6" cy="62.4" r="2.2"/><circle cx="1319.6" cy="67.0" r="2.2"/><circle cx="1344.3" cy="78.0" r="2.2"/><circle cx="1392.7" cy="67.4" r="2.2"/><circle cx="1394.7" cy="73.0" r="2.2"/><circle cx="1412.7" cy="63.6" r="2.2"/><circle cx="1452.8" cy="68.0" r="2.2"/><circle cx="1137.1" cy="97.1" r="2.2"/><circle cx="1136.5" cy="103.7" r="2.2"/><circle cx="1136.1" cy="108.1" r="2.2"/><circle cx="1146.1" cy="91.1" r="2.2"/><circle cx="1148.1" cy="90.5" r="2.2"/><circle cx="1149.7" cy="90.1" r="2.2"/><circle cx="1157.1" cy="90.1" r="2.2"/><circle cx="1162.1" cy="89.6" r="2.2"/><circle cx="1164.1" cy="91.7" r="2.2"/><circle cx="1166.1" cy="93.7" r="2.2"/><circle cx="1168.1" cy="101.1" r="2.2"/><circle cx="1171.1" cy="103.1" r="2.2"/><circle cx="1170.1" cy="107.1" r="2.2"/><circle cx="1176.1" cy="100.1" r="2.2"/><circle cx="1177.7" cy="105.1" r="2.2"/><circle cx="1146.1" cy="111.1" r="2.2"/><circle cx="1157.1" cy="112.5" r="2.2"/><circle cx="1162.1" cy="112.1" r="2.2"/><circle cx="1165.1" cy="106.1" r="2.2"/><circle cx="1155.1" cy="109.1" r="2.2"/><circle cx="1151.7" cy="98.1" r="2.2"/><circle cx="1149.1" cy="92.5" r="2.2"/><circle cx="1160.1" cy="92.5" r="2.2"/><circle cx="1150.5" cy="109.1" r="2.2"/><circle cx="1159.1" cy="110.1" r="2.2"/><circle cx="1153.8" cy="92.7" r="2.2"/><circle cx="1161.7" cy="90.8" r="2.2"/><circle cx="1158.9" cy="97.8" r="2.2"/><circle cx="1147.5" cy="101.2" r="2.2"/><circle cx="1147.0" cy="99.5" r="2.2"/><circle cx="1147.7" cy="91.2" r="2.2"/><circle cx="1156.3" cy="108.9" r="2.2"/><circle cx="1149.0" cy="94.4" r="2.2"/><circle cx="1161.1" cy="111.8" r="2.2"/><circle cx="1159.9" cy="98.6" r="2.2"/><circle cx="1169.5" cy="90.2" r="2.2"/><circle cx="1166.7" cy="96.0" r="2.2"/><circle cx="1133.1" cy="124.1" r="2.2"/><circle cx="1131.1" cy="131.1" r="2.2"/><circle cx="1130.5" cy="138.1" r="2.2"/><circle cx="1140.1" cy="140.1" r="2.2"/><circle cx="1146.1" cy="120.1" r="2.2"/><circle cx="1149.1" cy="119.7" r="2.2"/><circle cx="1151.1" cy="124.1" r="2.2"/><circle cx="1152.1" cy="141.1" r="2.2"/><circle cx="1156.1" cy="127.1" r="2.2"/><circle cx="1158.1" cy="131.7" r="2.2"/><circle cx="1142.1" cy="134.1" r="2.2"/><circle cx="1144.1" cy="128.1" r="2.2"/><circle cx="1150.1" cy="134.1" r="2.2"/><circle cx="1148.1" cy="136.1" r="2.2"/><circle cx="1146.1" cy="137.1" r="2.2"/><circle cx="1152.1" cy="138.1" r="2.2"/><circle cx="1155.1" cy="135.1" r="2.2"/><circle cx="1143.1" cy="124.1" r="2.2"/><circle cx="1147.1" cy="125.1" r="2.2"/><circle cx="1150.1" cy="128.1" r="2.2"/><circle cx="1153.1" cy="129.1" r="2.2"/><circle cx="1145.1" cy="131.1" r="2.2"/><circle cx="1149.1" cy="131.1" r="2.2"/><circle cx="1147.1" cy="134.1" r="2.2"/><circle cx="1144.1" cy="136.1" r="2.2"/><circle cx="1142.1" cy="129.1" r="2.2"/><circle cx="1143.4" cy="122.4" r="2.2"/><circle cx="1146.0" cy="136.4" r="2.2"/><circle cx="1144.0" cy="131.7" r="2.2"/><circle cx="1151.3" cy="127.5" r="2.2"/><circle cx="1149.8" cy="121.3" r="2.2"/><circle cx="1142.0" cy="124.2" r="2.2"/><circle cx="1152.0" cy="128.6" r="2.2"/><circle cx="1146.1" cy="131.8" r="2.2"/><circle cx="1148.3" cy="126.1" r="2.2"/><circle cx="1153.8" cy="134.1" r="2.2"/><circle cx="1145.0" cy="131.6" r="2.2"/><circle cx="1149.5" cy="137.6" r="2.2"/><circle cx="1152.7" cy="125.8" r="2.2"/><circle cx="1156.8" cy="122.4" r="2.2"/><circle cx="1147.8" cy="135.2" r="2.2"/><circle cx="1143.5" cy="129.9" r="2.2"/><circle cx="1141.7" cy="133.5" r="2.2"/><circle cx="1153.3" cy="131.6" r="2.2"/><circle cx="1155.1" cy="126.4" r="2.2"/><circle cx="1152.2" cy="132.0" r="2.2"/><circle cx="1150.3" cy="129.2" r="2.2"/><circle cx="1154.5" cy="139.0" r="2.2"/><circle cx="1148.7" cy="133.4" r="2.2"/><circle cx="1142.0" cy="134.1" r="2.2"/><circle cx="1151.4" cy="140.0" r="2.2"/><circle cx="1125.6" cy="160.1" r="2.2"/><circle cx="1144.1" cy="150.5" r="2.2"/><circle cx="1146.1" cy="155.7" r="2.2"/><circle cx="1143.7" cy="166.5" r="2.2"/><circle cx="1139.1" cy="151.7" r="2.2"/><circle cx="1133.7" cy="166.1" r="2.2"/><circle cx="1140.1" cy="151.1" r="2.2"/><circle cx="1142.1" cy="154.1" r="2.2"/><circle cx="1136.1" cy="152.1" r="2.2"/><circle cx="1137.1" cy="165.1" r="2.2"/><circle cx="1142.9" cy="155.2" r="2.2"/><circle cx="1137.7" cy="162.2" r="2.2"/><circle cx="1133.3" cy="158.4" r="2.2"/><circle cx="1135.1" cy="152.2" r="2.2"/><circle cx="1133.8" cy="164.0" r="2.2"/><circle cx="1134.6" cy="154.6" r="2.2"/><circle cx="1137.7" cy="165.8" r="2.2"/><circle cx="1134.0" cy="158.2" r="2.2"/><circle cx="1124.4" cy="179.7" r="2.2"/><circle cx="1125.0" cy="181.7" r="2.2"/><circle cx="1125.6" cy="183.7" r="2.2"/><circle cx="1124.0" cy="185.7" r="2.2"/><circle cx="1126.4" cy="187.1" r="2.2"/><circle cx="1124.4" cy="189.1" r="2.2"/><circle cx="1128.0" cy="188.5" r="2.2"/><circle cx="1130.1" cy="189.1" r="2.2"/><circle cx="1125.2" cy="191.2" r="2.2"/><circle cx="1123.6" cy="193.2" r="2.2"/><circle cx="1126.0" cy="194.6" r="2.2"/><circle cx="1124.4" cy="196.6" r="2.2"/><circle cx="1129.0" cy="197.8" r="2.2"/><circle cx="1126.4" cy="201.2" r="2.2"/><circle cx="1125.6" cy="199.2" r="2.2"/><circle cx="1127.0" cy="185.1" r="2.2"/><circle cx="1146.1" cy="195.8" r="2.2"/><circle cx="1131.3" cy="198.2" r="2.2"/><circle cx="1126.9" cy="197.8" r="2.2"/><circle cx="1128.8" cy="197.4" r="2.2"/><circle cx="1125.0" cy="188.5" r="2.2"/><circle cx="1125.6" cy="197.8" r="2.2"/><circle cx="1129.8" cy="183.2" r="2.2"/><circle cx="1124.3" cy="184.8" r="2.2"/><circle cx="1124.7" cy="189.8" r="2.2"/><circle cx="1127.2" cy="185.4" r="2.2"/><circle cx="1123.1" cy="188.5" r="2.2"/><circle cx="1125.6" cy="191.5" r="2.2"/><circle cx="1129.7" cy="194.0" r="2.2"/><circle cx="1126.7" cy="192.5" r="2.2"/><circle cx="1127.8" cy="181.2" r="2.2"/><circle cx="1129.3" cy="195.8" r="2.2"/><circle cx="1129.2" cy="196.1" r="2.2"/><circle cx="1125.8" cy="188.1" r="2.2"/><circle cx="1123.8" cy="192.8" r="2.2"/><circle cx="1123.5" cy="181.5" r="2.2"/><circle cx="1124.5" cy="183.4" r="2.2"/><circle cx="1125.4" cy="181.2" r="2.2"/></g>
<text x="1125.9" y="223.1" text-anchor="middle" class="t">0.0</text>
<text x="1188.4" y="223.1" text-anchor="middle" class="t">0.1</text>
<text x="1252.0" y="223.1" text-anchor="middle" class="t">0.2</text>
<text x="1315.2" y="223.1" text-anchor="middle" class="t">0.3</text>
<text x="1378.1" y="223.1" text-anchor="middle" class="t">0.4</text>
<text x="1441.4" y="223.1" text-anchor="middle" class="t">0.5</text>
<text x="1105.6" y="76.6" text-anchor="end" class="t">10</text>
<text x="1077.6" y="75.6" text-anchor="end" class="t">Density of Lymphocytes within 80 µm<tspan dx="1.2">of CSI</tspan></text>
<text x="763.2" y="78.2" text-anchor="middle" class="st" fill="#000" stroke="#000">*</text>
<text x="1105.6" y="106.6" text-anchor="end" class="t">9</text>
<text x="1077.6" y="105.6" text-anchor="end" class="t">Density of Plasma Cells in CAS</text>
<text x="849.9" y="108.2" text-anchor="middle" class="st" fill="#000" stroke="#000">*</text>
<text x="1105.6" y="136.2" text-anchor="end" class="t">7</text>
<text x="1077.6" y="136.2" text-anchor="end" class="t">Density of Macrophages in CAS</text>
<text x="845.1" y="138.8" text-anchor="middle" class="st" fill="#000" stroke="#000">*</text>
<text x="1105.6" y="166.2" text-anchor="end" class="t">8</text>
<text x="1077.6" y="166.7" text-anchor="end" class="t">Density of Plasma Cells in CT</text>
<text x="862.0" y="169.3" text-anchor="middle" class="st" fill="#000" stroke="#000">*</text>
<text x="1105.6" y="195.2" text-anchor="end" class="t">1</text>
<text x="1077.6" y="197.2" text-anchor="end" class="t">Total Macrophages in CT+CAS</text>
<text x="854.7" y="199.8" text-anchor="middle" class="st" fill="#000" stroke="#000">*</text>
<text x="1107.9" y="26.8" class="tb">(i) PD-1</text>
<line x1="1177.2" y1="370.7" x2="1177.2" y2="518.1" stroke="#ebebeb" stroke-width="1.4"/>
<line x1="1277.4" y1="370.7" x2="1277.4" y2="518.1" stroke="#ebebeb" stroke-width="1.4"/>
<line x1="1377.6" y1="370.7" x2="1377.6" y2="518.1" stroke="#ebebeb" stroke-width="1.4"/>
<line x1="1127.1" y1="370.7" x2="1127.1" y2="518.1" stroke="#ebebeb" stroke-width="1.4"/>
<line x1="1227.3" y1="370.7" x2="1227.3" y2="518.1" stroke="#ebebeb" stroke-width="1.4"/>
<line x1="1327.5" y1="370.7" x2="1327.5" y2="518.1" stroke="#ebebeb" stroke-width="1.4"/>
<line x1="1427.7" y1="370.7" x2="1427.7" y2="518.1" stroke="#ebebeb" stroke-width="1.4"/>
<line x1="1111.0" y1="387.9" x2="1460.5" y2="387.9" stroke="#ebebeb" stroke-width="1.4"/>
<line x1="1111.0" y1="416.6" x2="1460.5" y2="416.6" stroke="#ebebeb" stroke-width="1.4"/>
<line x1="1111.0" y1="444.9" x2="1460.5" y2="444.9" stroke="#ebebeb" stroke-width="1.4"/>
<line x1="1111.0" y1="473.2" x2="1460.5" y2="473.2" stroke="#ebebeb" stroke-width="1.4"/>
<line x1="1111.0" y1="501.7" x2="1460.5" y2="501.7" stroke="#ebebeb" stroke-width="1.4"/>
<line x1="1127.1" y1="387.9" x2="1128.1" y2="387.9" stroke="#000" stroke-width="1.5"/>
<line x1="1136.5" y1="387.9" x2="1136.8" y2="387.9" stroke="#000" stroke-width="2"/>
<rect x="1128.1" y="380.5" width="8.4" height="14.6" fill="#e26c6c" stroke="#000" stroke-width="1.3"/>
<rect x="1127.1" y="380.5" width="5.9" height="14.6" fill="#000"/>
<line x1="1129.0" y1="416.6" x2="1133.3" y2="416.6" stroke="#000" stroke-width="1.5"/>
<line x1="1263.7" y1="416.6" x2="1376.6" y2="416.6" stroke="#000" stroke-width="2"/>
<rect x="1133.3" y="409.4" width="130.4" height="14.1" fill="#e26c6c" stroke="#000" stroke-width="1.3"/>
<rect x="1175.3" y="409.4" width="5.9" height="14.1" fill="#000"/>
<line x1="1130.0" y1="444.9" x2="1135.3" y2="444.9" stroke="#000" stroke-width="1.5"/>
<line x1="1140.4" y1="444.9" x2="1150.5" y2="444.9" stroke="#000" stroke-width="2"/>
<rect x="1135.3" y="438.1" width="5.1" height="13.7" fill="#e26c6c" stroke="#000" stroke-width="1.3"/>
<rect x="1133.3" y="438.1" width="2.3" height="13.7" fill="#000"/>
<line x1="1128.1" y1="473.2" x2="1130.4" y2="473.2" stroke="#000" stroke-width="1.5"/>
<line x1="1138.8" y1="473.2" x2="1142.7" y2="473.2" stroke="#000" stroke-width="2"/>
<rect x="1130.4" y="466.4" width="8.4" height="13.7" fill="#e26c6c" stroke="#000" stroke-width="1.3"/>
<rect x="1136.0" y="466.4" width="1.8" height="13.7" fill="#000"/>
<line x1="1127.1" y1="501.7" x2="1128.1" y2="501.7" stroke="#000" stroke-width="1.5"/>
<line x1="1134.5" y1="501.7" x2="1134.9" y2="501.7" stroke="#000" stroke-width="2"/>
<rect x="1128.1" y="494.7" width="6.4" height="14.1" fill="#e26c6c" stroke="#000" stroke-width="1.3"/>
<rect x="1128.1" y="494.7" width="5.9" height="14.1" fill="#000"/>
<g fill="rgba(20,20,20,0.82)"><circle cx="1127.1" cy="376.6" r="2.2"/><circle cx="1128.1" cy="378.5" r="2.2"/><circle cx="1130.0" cy="379.5" r="2.2"/><circle cx="1127.1" cy="385.4" r="2.2"/><circle cx="1128.1" cy="389.3" r="2.2"/><circle cx="1129.0" cy="392.2" r="2.2"/><circle cx="1131.0" cy="394.2" r="2.2"/><circle cx="1132.0" cy="383.4" r="2.2"/><circle cx="1155.4" cy="383.0" r="2.2"/><circle cx="1444.3" cy="392.2" r="2.2"/><circle cx="1127.5" cy="381.5" r="2.2"/><circle cx="1129.0" cy="387.3" r="2.2"/><circle cx="1127.1" cy="393.2" r="2.2"/><circle cx="1131.4" cy="390.3" r="2.2"/><circle cx="1130.0" cy="384.4" r="2.2"/><circle cx="1128.4" cy="379.4" r="2.2"/><circle cx="1130.1" cy="377.9" r="2.2"/><circle cx="1129.5" cy="383.4" r="2.2"/><circle cx="1127.0" cy="386.0" r="2.2"/><circle cx="1126.9" cy="384.6" r="2.2"/><circle cx="1127.1" cy="378.3" r="2.2"/><circle cx="1128.9" cy="391.9" r="2.2"/><circle cx="1127.3" cy="380.7" r="2.2"/><circle cx="1130.0" cy="394.2" r="2.2"/><circle cx="1129.7" cy="383.9" r="2.2"/><circle cx="1131.8" cy="377.5" r="2.2"/><circle cx="1131.2" cy="382.0" r="2.2"/><circle cx="1127.5" cy="378.8" r="2.2"/><circle cx="1128.3" cy="391.7" r="2.2"/><circle cx="1127.6" cy="387.4" r="2.2"/><circle cx="1127.1" cy="409.8" r="2.2"/><circle cx="1126.7" cy="412.7" r="2.2"/><circle cx="1128.1" cy="415.6" r="2.2"/><circle cx="1130.0" cy="420.5" r="2.2"/><circle cx="1131.0" cy="424.4" r="2.2"/><circle cx="1132.9" cy="426.4" r="2.2"/><circle cx="1136.8" cy="425.4" r="2.2"/><circle cx="1138.8" cy="425.4" r="2.2"/><circle cx="1159.3" cy="409.8" r="2.2"/><circle cx="1178.8" cy="426.4" r="2.2"/><circle cx="1264.7" cy="419.5" r="2.2"/><circle cx="1276.0" cy="410.4" r="2.2"/><circle cx="1283.2" cy="410.8" r="2.2"/><circle cx="1329.1" cy="408.4" r="2.2"/><circle cx="1359.0" cy="407.8" r="2.2"/><circle cx="1304.7" cy="421.1" r="2.2"/><circle cx="1314.5" cy="427.0" r="2.2"/><circle cx="1376.6" cy="425.0" r="2.2"/><circle cx="1134.2" cy="415.7" r="2.2"/><circle cx="1133.1" cy="410.0" r="2.2"/><circle cx="1126.9" cy="412.6" r="2.2"/><circle cx="1134.7" cy="416.7" r="2.2"/><circle cx="1130.1" cy="419.7" r="2.2"/><circle cx="1131.9" cy="414.4" r="2.2"/><circle cx="1127.1" cy="434.2" r="2.2"/><circle cx="1129.0" cy="437.1" r="2.2"/><circle cx="1132.0" cy="435.2" r="2.2"/><circle cx="1135.9" cy="435.2" r="2.2"/><circle cx="1139.8" cy="435.2" r="2.2"/><circle cx="1127.1" cy="440.0" r="2.2"/><circle cx="1126.7" cy="444.9" r="2.2"/><circle cx="1128.1" cy="448.8" r="2.2"/><circle cx="1127.1" cy="454.7" r="2.2"/><circle cx="1130.0" cy="455.6" r="2.2"/><circle cx="1133.9" cy="456.6" r="2.2"/><circle cx="1136.8" cy="455.6" r="2.2"/><circle cx="1140.8" cy="452.7" r="2.2"/><circle cx="1137.8" cy="449.8" r="2.2"/><circle cx="1151.5" cy="447.4" r="2.2"/><circle cx="1152.9" cy="455.6" r="2.2"/><circle cx="1168.5" cy="450.4" r="2.2"/><circle cx="1176.9" cy="437.5" r="2.2"/><circle cx="1180.2" cy="448.2" r="2.2"/><circle cx="1188.0" cy="444.3" r="2.2"/><circle cx="1190.7" cy="451.7" r="2.2"/><circle cx="1195.4" cy="447.3" r="2.2"/><circle cx="1205.2" cy="451.7" r="2.2"/><circle cx="1237.4" cy="436.1" r="2.2"/><circle cx="1260.4" cy="444.9" r="2.2"/><circle cx="1130.0" cy="443.9" r="2.2"/><circle cx="1133.9" cy="445.9" r="2.2"/><circle cx="1132.0" cy="451.7" r="2.2"/><circle cx="1138.5" cy="449.9" r="2.2"/><circle cx="1129.9" cy="447.1" r="2.2"/><circle cx="1134.3" cy="453.8" r="2.2"/><circle cx="1137.5" cy="440.6" r="2.2"/><circle cx="1141.4" cy="436.8" r="2.2"/><circle cx="1132.6" cy="451.2" r="2.2"/><circle cx="1128.5" cy="445.2" r="2.2"/><circle cx="1126.7" cy="449.2" r="2.2"/><circle cx="1138.1" cy="447.0" r="2.2"/><circle cx="1139.8" cy="441.2" r="2.2"/><circle cx="1137.0" cy="447.5" r="2.2"/><circle cx="1135.2" cy="444.4" r="2.2"/><circle cx="1139.2" cy="455.4" r="2.2"/><circle cx="1133.5" cy="449.1" r="2.2"/><circle cx="1127.1" cy="449.9" r="2.2"/><circle cx="1136.2" cy="456.5" r="2.2"/><circle cx="1138.9" cy="440.6" r="2.2"/><circle cx="1132.1" cy="449.2" r="2.2"/><circle cx="1126.5" cy="444.5" r="2.2"/><circle cx="1128.7" cy="436.8" r="2.2"/><circle cx="1127.0" cy="451.4" r="2.2"/><circle cx="1128.1" cy="439.7" r="2.2"/><circle cx="1132.2" cy="453.7" r="2.2"/><circle cx="1127.4" cy="444.3" r="2.2"/><circle cx="1134.7" cy="454.0" r="2.2"/><circle cx="1138.9" cy="453.6" r="2.2"/><circle cx="1130.5" cy="443.5" r="2.2"/><circle cx="1131.7" cy="454.0" r="2.2"/><circle cx="1141.1" cy="437.6" r="2.2"/><circle cx="1128.9" cy="439.4" r="2.2"/><circle cx="1127.1" cy="463.5" r="2.2"/><circle cx="1130.0" cy="463.1" r="2.2"/><circle cx="1133.9" cy="462.5" r="2.2"/><circle cx="1137.8" cy="463.5" r="2.2"/><circle cx="1140.4" cy="462.5" r="2.2"/><circle cx="1127.1" cy="469.3" r="2.2"/><circle cx="1126.1" cy="474.2" r="2.2"/><circle cx="1128.1" cy="478.1" r="2.2"/><circle cx="1127.1" cy="482.6" r="2.2"/><circle cx="1131.0" cy="483.4" r="2.2"/><circle cx="1134.9" cy="483.0" r="2.2"/><circle cx="1138.8" cy="484.0" r="2.2"/><circle cx="1141.1" cy="469.3" r="2.2"/><circle cx="1141.7" cy="477.1" r="2.2"/><circle cx="1145.0" cy="472.8" r="2.2"/><circle cx="1165.7" cy="469.7" r="2.2"/><circle cx="1173.0" cy="473.8" r="2.2"/><circle cx="1192.5" cy="482.6" r="2.2"/><circle cx="1194.4" cy="483.0" r="2.2"/><circle cx="1215.9" cy="464.8" r="2.2"/><circle cx="1226.2" cy="479.1" r="2.2"/><circle cx="1129.0" cy="472.2" r="2.2"/><circle cx="1132.0" cy="477.1" r="2.2"/><circle cx="1129.9" cy="473.4" r="2.2"/><circle cx="1135.7" cy="468.4" r="2.2"/><circle cx="1126.2" cy="471.9" r="2.2"/><circle cx="1132.1" cy="475.2" r="2.2"/><circle cx="1141.6" cy="478.0" r="2.2"/><circle cx="1134.5" cy="476.3" r="2.2"/><circle cx="1137.1" cy="463.7" r="2.2"/><circle cx="1140.7" cy="480.0" r="2.2"/><circle cx="1140.3" cy="480.4" r="2.2"/><circle cx="1132.5" cy="471.4" r="2.2"/><circle cx="1127.8" cy="476.7" r="2.2"/><circle cx="1127.1" cy="464.0" r="2.2"/><circle cx="1129.5" cy="466.1" r="2.2"/><circle cx="1131.6" cy="463.7" r="2.2"/><circle cx="1126.1" cy="465.9" r="2.2"/><circle cx="1127.8" cy="470.6" r="2.2"/><circle cx="1126.5" cy="482.1" r="2.2"/><circle cx="1136.1" cy="465.8" r="2.2"/><circle cx="1130.2" cy="470.3" r="2.2"/><circle cx="1132.0" cy="465.2" r="2.2"/><circle cx="1139.9" cy="484.8" r="2.2"/><circle cx="1133.7" cy="473.3" r="2.2"/><circle cx="1127.5" cy="464.8" r="2.2"/><circle cx="1131.7" cy="468.4" r="2.2"/><circle cx="1139.5" cy="466.1" r="2.2"/><circle cx="1126.5" cy="483.8" r="2.2"/><circle cx="1134.7" cy="465.8" r="2.2"/><circle cx="1134.9" cy="463.1" r="2.2"/><circle cx="1134.7" cy="484.4" r="2.2"/><circle cx="1140.1" cy="478.1" r="2.2"/><circle cx="1128.1" cy="495.7" r="2.2"/><circle cx="1132.0" cy="493.7" r="2.2"/><circle cx="1132.9" cy="496.6" r="2.2"/><circle cx="1129.0" cy="499.6" r="2.2"/><circle cx="1131.0" cy="502.5" r="2.2"/><circle cx="1128.6" cy="505.4" r="2.2"/><circle cx="1132.9" cy="506.8" r="2.2"/><circle cx="1130.0" cy="509.3" r="2.2"/><circle cx="1132.0" cy="510.7" r="2.2"/><circle cx="1127.1" cy="510.9" r="2.2"/><circle cx="1163.8" cy="495.7" r="2.2"/><circle cx="1162.6" cy="511.9" r="2.2"/><circle cx="1221.4" cy="501.5" r="2.2"/><circle cx="1129.4" cy="500.2" r="2.2"/><circle cx="1128.6" cy="507.3" r="2.2"/><circle cx="1131.8" cy="507.4" r="2.2"/><circle cx="1130.0" cy="497.6" r="2.2"/><circle cx="1134.2" cy="511.0" r="2.2"/><circle cx="1134.6" cy="507.9" r="2.2"/><circle cx="1134.3" cy="506.7" r="2.2"/><circle cx="1129.1" cy="502.8" r="2.2"/><circle cx="1130.2" cy="494.2" r="2.2"/><circle cx="1127.3" cy="498.6" r="2.2"/><circle cx="1129.4" cy="505.9" r="2.2"/><circle cx="1135.5" cy="501.6" r="2.2"/><circle cx="1135.3" cy="511.1" r="2.2"/><circle cx="1135.5" cy="500.1" r="2.2"/><circle cx="1129.0" cy="497.7" r="2.2"/><circle cx="1128.8" cy="497.3" r="2.2"/><circle cx="1132.6" cy="509.5" r="2.2"/><circle cx="1134.5" cy="502.1" r="2.2"/><circle cx="1132.8" cy="507.8" r="2.2"/><circle cx="1127.8" cy="505.3" r="2.2"/></g>
<text x="1129.5" y="535.1" text-anchor="middle" class="t">0.0</text>
<text x="1229.8" y="535.1" text-anchor="middle" class="t">0.2</text>
<text x="1330.4" y="535.1" text-anchor="middle" class="t">0.4</text>
<text x="1427.4" y="535.1" text-anchor="middle" class="t">0.6</text>
<text x="1108.0" y="394.6" text-anchor="end" class="t">5</text>
<text x="1077.6" y="394.6" text-anchor="end" class="t">SD of Cluster Extent of Cancer Cells in CAS</text>
<text x="1108.0" y="423.1" text-anchor="end" class="t">10</text>
<text x="1077.6" y="423.6" text-anchor="end" class="t">Count (Cancer Cells within 80 µm of Lymphocytes) / (Cancer Cells in CT)</text>
<text x="1108.0" y="452.6" text-anchor="end" class="t">7</text>
<text x="1077.6" y="453.2" text-anchor="end" class="t">Mean Cluster Extent of Macrophages within 80 µm of CSI</text>
<text x="663.5" y="455.8" text-anchor="middle" class="st" fill="#000" stroke="#000">*</text>
<text x="1108.0" y="481.7" text-anchor="end" class="t">1</text>
<text x="1077.6" y="482.7" text-anchor="end" class="t">Total Lymphocytes within 80 µm of CSI</text>
<text x="1108.0" y="511.7" text-anchor="end" class="t">2</text>
<text x="1077.6" y="511.7" text-anchor="end" class="t">Area of Necrotic Tissue</text>
<text x="905.6" y="514.3" text-anchor="middle" class="st" fill="#a00000" stroke="#a00000">*</text>
<text x="1107.9" y="342.1" class="tb">(ii) PD-L1</text>
<line x1="1170.7" y1="690.2" x2="1170.7" y2="837.7" stroke="#ebebeb" stroke-width="1.4"/>
<line x1="1260.6" y1="690.2" x2="1260.6" y2="837.7" stroke="#ebebeb" stroke-width="1.4"/>
<line x1="1350.5" y1="690.2" x2="1350.5" y2="837.7" stroke="#ebebeb" stroke-width="1.4"/>
<line x1="1440.4" y1="690.2" x2="1440.4" y2="837.7" stroke="#ebebeb" stroke-width="1.4"/>
<line x1="1125.7" y1="690.2" x2="1125.7" y2="837.7" stroke="#ebebeb" stroke-width="1.4"/>
<line x1="1215.6" y1="690.2" x2="1215.6" y2="837.7" stroke="#ebebeb" stroke-width="1.4"/>
<line x1="1305.5" y1="690.2" x2="1305.5" y2="837.7" stroke="#ebebeb" stroke-width="1.4"/>
<line x1="1395.4" y1="690.2" x2="1395.4" y2="837.7" stroke="#ebebeb" stroke-width="1.4"/>
<line x1="1110.5" y1="707.3" x2="1458.9" y2="707.3" stroke="#ebebeb" stroke-width="1.4"/>
<line x1="1110.5" y1="736.0" x2="1458.9" y2="736.0" stroke="#ebebeb" stroke-width="1.4"/>
<line x1="1110.5" y1="764.3" x2="1458.9" y2="764.3" stroke="#ebebeb" stroke-width="1.4"/>
<line x1="1110.5" y1="792.8" x2="1458.9" y2="792.8" stroke="#ebebeb" stroke-width="1.4"/>
<line x1="1110.5" y1="821.1" x2="1458.9" y2="821.1" stroke="#ebebeb" stroke-width="1.4"/>
<line x1="1127.1" y1="707.3" x2="1127.5" y2="707.3" stroke="#000" stroke-width="1.5"/>
<line x1="1237.4" y1="707.3" x2="1365.8" y2="707.3" stroke="#000" stroke-width="2"/>
<rect x="1127.5" y="700.1" width="109.9" height="14.6" fill="#e26c6c" stroke="#000" stroke-width="1.3"/>
<rect x="1133.1" y="700.1" width="6.2" height="14.6" fill="#000"/>
<line x1="1126.3" y1="736.0" x2="1126.7" y2="736.0" stroke="#000" stroke-width="1.5"/>
<line x1="1153.4" y1="736.0" x2="1127.1" y2="736.0" stroke="#000" stroke-width="2"/>
<rect x="1126.7" y="728.4" width="26.7" height="14.6" fill="#e26c6c" stroke="#000" stroke-width="1.3"/>
<rect x="1126.9" y="728.4" width="5.5" height="14.6" fill="#000"/>
<line x1="1126.3" y1="764.3" x2="1127.1" y2="764.3" stroke="#000" stroke-width="1.5"/>
<line x1="1150.1" y1="764.3" x2="1161.8" y2="764.3" stroke="#000" stroke-width="2"/>
<rect x="1127.1" y="757.5" width="23.0" height="13.7" fill="#e26c6c" stroke="#000" stroke-width="1.3"/>
<rect x="1132.4" y="757.5" width="5.1" height="13.7" fill="#000"/>
<line x1="1126.1" y1="792.8" x2="1128.1" y2="792.8" stroke="#000" stroke-width="1.5"/>
<line x1="1133.9" y1="792.8" x2="1137.8" y2="792.8" stroke="#000" stroke-width="2"/>
<rect x="1128.1" y="786.4" width="5.9" height="12.7" fill="#e26c6c" stroke="#000" stroke-width="1.3"/>
<rect x="1127.1" y="786.4" width="5.9" height="12.7" fill="#000"/>
<line x1="1126.1" y1="821.1" x2="1127.5" y2="821.1" stroke="#000" stroke-width="1.5"/>
<line x1="1131.0" y1="821.1" x2="1132.0" y2="821.1" stroke="#000" stroke-width="2"/>
<rect x="1127.5" y="814.7" width="3.5" height="12.7" fill="#e26c6c" stroke="#000" stroke-width="1.3"/>
<rect x="1125.7" y="814.7" width="5.9" height="12.7" fill="#000"/>
<g fill="rgba(20,20,20,0.82)"><circle cx="1126.1" cy="697.2" r="2.2"/><circle cx="1131.0" cy="696.6" r="2.2"/><circle cx="1132.0" cy="698.0" r="2.2"/><circle cx="1140.8" cy="696.2" r="2.2"/><circle cx="1126.7" cy="705.4" r="2.2"/><circle cx="1126.1" cy="714.2" r="2.2"/><circle cx="1127.1" cy="718.1" r="2.2"/><circle cx="1146.2" cy="715.1" r="2.2"/><circle cx="1208.1" cy="716.7" r="2.2"/><circle cx="1230.2" cy="715.5" r="2.2"/><circle cx="1239.3" cy="715.5" r="2.2"/><circle cx="1264.3" cy="714.2" r="2.2"/><circle cx="1273.1" cy="710.3" r="2.2"/><circle cx="1293.4" cy="703.4" r="2.2"/><circle cx="1310.6" cy="709.7" r="2.2"/><circle cx="1329.1" cy="699.5" r="2.2"/><circle cx="1347.7" cy="718.1" r="2.2"/><circle cx="1365.8" cy="713.2" r="2.2"/><circle cx="1425.2" cy="709.9" r="2.2"/><circle cx="1442.9" cy="715.3" r="2.2"/><circle cx="1127.7" cy="699.8" r="2.2"/><circle cx="1129.8" cy="698.1" r="2.2"/><circle cx="1129.1" cy="704.4" r="2.2"/><circle cx="1126.1" cy="707.5" r="2.2"/><circle cx="1126.0" cy="705.9" r="2.2"/><circle cx="1126.2" cy="698.5" r="2.2"/><circle cx="1128.4" cy="714.3" r="2.2"/><circle cx="1126.5" cy="701.4" r="2.2"/><circle cx="1129.6" cy="716.9" r="2.2"/><circle cx="1129.3" cy="705.1" r="2.2"/><circle cx="1126.1" cy="730.8" r="2.2"/><circle cx="1126.1" cy="742.1" r="2.2"/><circle cx="1218.2" cy="739.7" r="2.2"/><circle cx="1126.7" cy="736.6" r="2.2"/><circle cx="1128.0" cy="729.5" r="2.2"/><circle cx="1127.7" cy="733.0" r="2.2"/><circle cx="1126.1" cy="730.5" r="2.2"/><circle cx="1126.4" cy="740.7" r="2.2"/><circle cx="1126.1" cy="737.3" r="2.2"/><circle cx="1127.2" cy="734.3" r="2.2"/><circle cx="1126.1" cy="757.1" r="2.2"/><circle cx="1135.3" cy="754.6" r="2.2"/><circle cx="1126.1" cy="764.3" r="2.2"/><circle cx="1127.1" cy="772.7" r="2.2"/><circle cx="1132.0" cy="771.7" r="2.2"/><circle cx="1140.4" cy="775.6" r="2.2"/><circle cx="1161.8" cy="771.7" r="2.2"/><circle cx="1162.2" cy="774.7" r="2.2"/><circle cx="1194.8" cy="755.5" r="2.2"/><circle cx="1150.5" cy="761.0" r="2.2"/><circle cx="1129.1" cy="758.1" r="2.2"/><circle cx="1126.1" cy="760.5" r="2.2"/><circle cx="1130.0" cy="764.2" r="2.2"/><circle cx="1127.7" cy="766.8" r="2.2"/><circle cx="1128.6" cy="762.1" r="2.2"/><circle cx="1130.7" cy="768.7" r="2.2"/><circle cx="1131.0" cy="781.9" r="2.2"/><circle cx="1133.9" cy="782.5" r="2.2"/><circle cx="1132.0" cy="785.4" r="2.2"/><circle cx="1134.9" cy="787.4" r="2.2"/><circle cx="1125.1" cy="789.3" r="2.2"/><circle cx="1128.1" cy="790.3" r="2.2"/><circle cx="1131.0" cy="791.3" r="2.2"/><circle cx="1126.1" cy="794.2" r="2.2"/><circle cx="1129.0" cy="795.2" r="2.2"/><circle cx="1132.9" cy="796.1" r="2.2"/><circle cx="1135.9" cy="797.1" r="2.2"/><circle cx="1127.1" cy="798.1" r="2.2"/><circle cx="1130.0" cy="800.0" r="2.2"/><circle cx="1133.9" cy="801.0" r="2.2"/><circle cx="1126.1" cy="803.0" r="2.2"/><circle cx="1132.0" cy="803.4" r="2.2"/><circle cx="1141.1" cy="787.9" r="2.2"/><circle cx="1140.4" cy="803.0" r="2.2"/><circle cx="1184.1" cy="796.1" r="2.2"/><circle cx="1127.7" cy="794.5" r="2.2"/><circle cx="1131.1" cy="801.9" r="2.2"/><circle cx="1133.6" cy="787.6" r="2.2"/><circle cx="1136.6" cy="783.4" r="2.2"/><circle cx="1129.8" cy="799.0" r="2.2"/><circle cx="1126.6" cy="792.5" r="2.2"/><circle cx="1125.2" cy="796.8" r="2.2"/><circle cx="1134.0" cy="794.5" r="2.2"/><circle cx="1135.3" cy="788.2" r="2.2"/><circle cx="1133.2" cy="795.0" r="2.2"/><circle cx="1131.8" cy="791.7" r="2.2"/><circle cx="1134.9" cy="803.6" r="2.2"/><circle cx="1130.5" cy="796.7" r="2.2"/><circle cx="1125.5" cy="797.6" r="2.2"/><circle cx="1132.6" cy="804.8" r="2.2"/><circle cx="1134.7" cy="787.5" r="2.2"/><circle cx="1129.4" cy="796.8" r="2.2"/><circle cx="1125.0" cy="791.8" r="2.2"/><circle cx="1126.8" cy="783.4" r="2.2"/><circle cx="1125.5" cy="799.3" r="2.2"/><circle cx="1126.3" cy="786.6" r="2.2"/><circle cx="1129.5" cy="801.8" r="2.2"/><circle cx="1125.7" cy="791.5" r="2.2"/><circle cx="1131.4" cy="802.1" r="2.2"/><circle cx="1134.7" cy="801.6" r="2.2"/><circle cx="1128.1" cy="790.7" r="2.2"/><circle cx="1129.1" cy="802.1" r="2.2"/><circle cx="1136.3" cy="784.2" r="2.2"/><circle cx="1126.9" cy="786.2" r="2.2"/><circle cx="1127.6" cy="792.4" r="2.2"/><circle cx="1131.9" cy="786.9" r="2.2"/><circle cx="1124.8" cy="790.7" r="2.2"/><circle cx="1129.2" cy="794.3" r="2.2"/><circle cx="1136.3" cy="797.4" r="2.2"/><circle cx="1131.0" cy="795.6" r="2.2"/><circle cx="1129.0" cy="810.4" r="2.2"/><circle cx="1131.0" cy="811.2" r="2.2"/><circle cx="1128.1" cy="813.7" r="2.2"/><circle cx="1130.0" cy="815.7" r="2.2"/><circle cx="1125.1" cy="817.6" r="2.2"/><circle cx="1128.1" cy="819.6" r="2.2"/><circle cx="1130.0" cy="821.5" r="2.2"/><circle cx="1127.5" cy="823.5" r="2.2"/><circle cx="1129.0" cy="825.4" r="2.2"/><circle cx="1130.0" cy="827.4" r="2.2"/><circle cx="1128.1" cy="828.4" r="2.2"/><circle cx="1150.1" cy="819.2" r="2.2"/><circle cx="1129.9" cy="810.9" r="2.2"/><circle cx="1131.3" cy="825.0" r="2.2"/><circle cx="1131.2" cy="825.4" r="2.2"/><circle cx="1128.1" cy="817.6" r="2.2"/><circle cx="1126.2" cy="822.2" r="2.2"/><circle cx="1125.9" cy="811.1" r="2.2"/><circle cx="1126.9" cy="813.0" r="2.2"/><circle cx="1127.7" cy="810.8" r="2.2"/><circle cx="1125.5" cy="812.8" r="2.2"/><circle cx="1126.2" cy="816.9" r="2.2"/><circle cx="1125.7" cy="826.9" r="2.2"/><circle cx="1129.5" cy="812.7" r="2.2"/><circle cx="1127.2" cy="816.6" r="2.2"/><circle cx="1127.9" cy="812.2" r="2.2"/><circle cx="1131.0" cy="829.2" r="2.2"/><circle cx="1128.5" cy="819.3" r="2.2"/><circle cx="1126.1" cy="811.8" r="2.2"/><circle cx="1127.7" cy="815.0" r="2.2"/><circle cx="1130.9" cy="813.0" r="2.2"/><circle cx="1125.7" cy="828.4" r="2.2"/><circle cx="1128.9" cy="812.7" r="2.2"/><circle cx="1129.0" cy="810.3" r="2.2"/><circle cx="1128.9" cy="828.9" r="2.2"/><circle cx="1131.1" cy="823.4" r="2.2"/><circle cx="1127.2" cy="817.0" r="2.2"/></g>
<text x="1129.7" y="850.6" text-anchor="middle" class="t">0.00</text>
<text x="1219.6" y="850.6" text-anchor="middle" class="t">0.25</text>
<text x="1309.5" y="850.6" text-anchor="middle" class="t">0.50</text>
<text x="1399.3" y="850.6" text-anchor="middle" class="t">0.75</text>
<text x="1107.5" y="711.6" text-anchor="end" class="t">10</text>
<text x="1077.6" y="711.6" text-anchor="end" class="t">Count (Cancer Cells within 80 µm of Lymphocytes) / (Cancer Cells in CT)</text>
<text x="554.4" y="714.2" text-anchor="middle" class="st" fill="#000" stroke="#000">*</text>
<text x="1107.5" y="741.1" text-anchor="end" class="t">20</text>
<text x="1077.6" y="741.1" text-anchor="end" class="t">SD of Extents of Significant Regions of Necrosis</text>
<text x="727.9" y="743.7" text-anchor="middle" class="st" fill="#a00000" stroke="#a00000">*</text>
<text x="1107.5" y="770.7" text-anchor="end" class="t">15</text>
<text x="1077.6" y="770.7" text-anchor="end" class="t">Count (Cancer Cells within 80 µm of CSI) / (Cancer Cells in CAS)</text>
<text x="607.8" y="773.3" text-anchor="middle" class="st" fill="#a00000" stroke="#a00000">*</text>
<text x="1107.5" y="799.7" text-anchor="end" class="t">1</text>
<text x="1077.6" y="799.7" text-anchor="end" class="t">Total Lymphocytes within 80 µm of CSI</text>
<text x="798.3" y="802.3" text-anchor="middle" class="st" fill="#000" stroke="#000">*</text>
<text x="1107.5" y="829.2" text-anchor="end" class="t">11</text>
<text x="1077.6" y="829.2" text-anchor="end" class="t">Count (Lymphocytes within 80 µm of CSI) / (Lymphocytes in CT)</text>
<text x="616.9" y="831.8" text-anchor="middle" class="st" fill="#000" stroke="#000">*</text>
<text x="1107.9" y="658.3" class="tb">(iii) CTLA-4</text>
<line x1="1166.3" y1="1009.0" x2="1166.3" y2="1160.2" stroke="#ebebeb" stroke-width="1.4"/>
<line x1="1252.1" y1="1009.0" x2="1252.1" y2="1160.2" stroke="#ebebeb" stroke-width="1.4"/>
<line x1="1337.9" y1="1009.0" x2="1337.9" y2="1160.2" stroke="#ebebeb" stroke-width="1.4"/>
<line x1="1423.7" y1="1009.0" x2="1423.7" y2="1160.2" stroke="#ebebeb" stroke-width="1.4"/>
<line x1="1123.4" y1="1009.0" x2="1123.4" y2="1160.2" stroke="#ebebeb" stroke-width="1.4"/>
<line x1="1209.2" y1="1009.0" x2="1209.2" y2="1160.2" stroke="#ebebeb" stroke-width="1.4"/>
<line x1="1295.0" y1="1009.0" x2="1295.0" y2="1160.2" stroke="#ebebeb" stroke-width="1.4"/>
<line x1="1380.8" y1="1009.0" x2="1380.8" y2="1160.2" stroke="#ebebeb" stroke-width="1.4"/>
<line x1="1466.6" y1="1009.0" x2="1466.6" y2="1160.2" stroke="#ebebeb" stroke-width="1.4"/>
<line x1="1109.4" y1="1026.0" x2="1466.6" y2="1026.0" stroke="#ebebeb" stroke-width="1.4"/>
<line x1="1109.4" y1="1055.5" x2="1466.6" y2="1055.5" stroke="#ebebeb" stroke-width="1.4"/>
<line x1="1109.4" y1="1084.5" x2="1466.6" y2="1084.5" stroke="#ebebeb" stroke-width="1.4"/>
<line x1="1109.4" y1="1113.7" x2="1466.6" y2="1113.7" stroke="#ebebeb" stroke-width="1.4"/>
<line x1="1109.4" y1="1142.9" x2="1466.6" y2="1142.9" stroke="#ebebeb" stroke-width="1.4"/>
<line x1="1136.0" y1="1026.0" x2="1173.5" y2="1026.0" stroke="#000" stroke-width="1.5"/>
<line x1="1263.8" y1="1026.0" x2="1279.8" y2="1026.0" stroke="#000" stroke-width="2"/>
<rect x="1173.5" y="1018.4" width="90.3" height="15.2" fill="#e26c6c" stroke="#000" stroke-width="1.3"/>
<rect x="1229.5" y="1018.4" width="6.0" height="15.2" fill="#000"/>
<line x1="1131.6" y1="1055.5" x2="1149.7" y2="1055.5" stroke="#000" stroke-width="1.5"/>
<line x1="1209.3" y1="1055.5" x2="1288.8" y2="1055.5" stroke="#000" stroke-width="2"/>
<rect x="1149.7" y="1048.4" width="59.7" height="14.6" fill="#e26c6c" stroke="#000" stroke-width="1.3"/>
<rect x="1164.1" y="1048.4" width="6.0" height="14.6" fill="#000"/>
<line x1="1126.0" y1="1084.5" x2="1135.2" y2="1084.5" stroke="#000" stroke-width="1.5"/>
<line x1="1201.1" y1="1084.5" x2="1226.5" y2="1084.5" stroke="#000" stroke-width="2"/>
<rect x="1135.2" y="1077.7" width="65.9" height="14.4" fill="#e26c6c" stroke="#000" stroke-width="1.3"/>
<rect x="1162.1" y="1077.7" width="6.0" height="14.4" fill="#000"/>
<line x1="1131.0" y1="1113.7" x2="1139.6" y2="1113.7" stroke="#000" stroke-width="1.5"/>
<line x1="1188.1" y1="1113.7" x2="1209.1" y2="1113.7" stroke="#000" stroke-width="2"/>
<rect x="1139.6" y="1106.7" width="48.4" height="14.4" fill="#e26c6c" stroke="#000" stroke-width="1.3"/>
<rect x="1168.1" y="1106.7" width="6.0" height="14.4" fill="#000"/>
<line x1="1126.0" y1="1142.9" x2="1129.2" y2="1142.9" stroke="#000" stroke-width="1.5"/>
<line x1="1151.5" y1="1142.9" x2="1170.1" y2="1142.9" stroke="#000" stroke-width="2"/>
<rect x="1129.2" y="1135.9" width="22.2" height="14.2" fill="#e26c6c" stroke="#000" stroke-width="1.3"/>
<rect x="1133.8" y="1135.9" width="5.2" height="14.2" fill="#000"/>
<g fill="rgba(20,20,20,0.82)"><circle cx="1135.6" cy="1017.6" r="2.2"/><circle cx="1280.2" cy="1021.0" r="2.2"/><circle cx="1170.1" cy="1033.6" r="2.2"/><circle cx="1450.8" cy="1033.6" r="2.2"/><circle cx="1140.5" cy="1052.1" r="2.2"/><circle cx="1143.1" cy="1060.5" r="2.2"/><circle cx="1131.6" cy="1064.1" r="2.2"/><circle cx="1150.1" cy="1063.7" r="2.2"/><circle cx="1164.5" cy="1066.1" r="2.2"/><circle cx="1177.1" cy="1063.7" r="2.2"/><circle cx="1208.1" cy="1046.4" r="2.2"/><circle cx="1216.1" cy="1043.6" r="2.2"/><circle cx="1210.1" cy="1058.5" r="2.2"/><circle cx="1288.8" cy="1057.5" r="2.2"/><circle cx="1348.9" cy="1056.9" r="2.2"/><circle cx="1125.6" cy="1074.5" r="2.2"/><circle cx="1133.6" cy="1077.1" r="2.2"/><circle cx="1126.4" cy="1087.1" r="2.2"/><circle cx="1198.1" cy="1076.1" r="2.2"/><circle cx="1203.5" cy="1087.1" r="2.2"/><circle cx="1226.5" cy="1088.5" r="2.2"/><circle cx="1165.7" cy="1094.1" r="2.2"/><circle cx="1169.1" cy="1094.1" r="2.2"/><circle cx="1136.0" cy="1105.7" r="2.2"/><circle cx="1182.5" cy="1105.3" r="2.2"/><circle cx="1209.1" cy="1115.7" r="2.2"/><circle cx="1131.0" cy="1124.1" r="2.2"/><circle cx="1203.5" cy="1125.1" r="2.2"/><circle cx="1197.1" cy="1134.5" r="2.2"/><circle cx="1125.0" cy="1136.7" r="2.2"/><circle cx="1128.0" cy="1132.1" r="2.2"/><circle cx="1132.0" cy="1132.1" r="2.2"/><circle cx="1143.1" cy="1135.7" r="2.2"/><circle cx="1156.1" cy="1133.7" r="2.2"/><circle cx="1166.1" cy="1142.5" r="2.2"/><circle cx="1169.7" cy="1143.7" r="2.2"/><circle cx="1126.0" cy="1153.2" r="2.2"/><circle cx="1130.0" cy="1153.2" r="2.2"/><circle cx="1150.1" cy="1153.2" r="2.2"/><circle cx="1153.1" cy="1153.2" r="2.2"/></g>
<text x="1127.0" y="1173.2" text-anchor="middle" class="t">0.00</text>
<text x="1212.2" y="1173.2" text-anchor="middle" class="t">0.01</text>
<text x="1298.6" y="1173.2" text-anchor="middle" class="t">0.02</text>
<text x="1384.3" y="1173.2" text-anchor="middle" class="t">0.03</text>
<text x="1466.9" y="1173.2" text-anchor="middle" class="t">0.04</text>
<text x="1106.6" y="1029.6" text-anchor="end" class="t">12</text>
<text x="1077.6" y="1029.6" text-anchor="end" class="t">Density (Fibroblasts within 80 µm of CSI) / (Fibroblasts in CT)</text>
<text x="632.5" y="1032.2" text-anchor="middle" class="st" fill="#000" stroke="#000">*</text>
<text x="1106.6" y="1059.1" text-anchor="end" class="t">2</text>
<text x="1077.6" y="1059.1" text-anchor="end" class="t">Area of Necrotic Tissue</text>
<text x="901.4" y="1061.7" text-anchor="middle" class="st" fill="#000" stroke="#000">*</text>
<text x="1106.6" y="1088.7" text-anchor="end" class="t">16</text>
<text x="1077.6" y="1088.7" text-anchor="end" class="t">Count (Plasma Cells in CAS) / (Plasma Cells in CT+CAS)</text>
<text x="660.1" y="1091.3" text-anchor="middle" class="st" fill="#000" stroke="#000">*</text>
<text x="1106.6" y="1118.2" text-anchor="end" class="t">4</text>
<text x="1077.6" y="1118.2" text-anchor="end" class="t">Density (Fibroblasts in CAS) / (Fibroblasts in CT+CAS)</text>
<text x="680.3" y="1120.8" text-anchor="middle" class="st" fill="#000" stroke="#000">*</text>
<text x="1106.6" y="1147.2" text-anchor="end" class="t">9</text>
<text x="1077.6" y="1147.2" text-anchor="end" class="t">Total Plasma Cells within 80 µm of CSI</text>
<text x="794.2" y="1149.8" text-anchor="middle" class="st" fill="#000" stroke="#000">*</text>
<text x="1107.9" y="978.3" class="tb">(iv) HRD</text>
<line x1="1169.2" y1="1330.5" x2="1169.2" y2="1464.1" stroke="#ebebeb" stroke-width="1.4"/>
<line x1="1256.0" y1="1330.5" x2="1256.0" y2="1464.1" stroke="#ebebeb" stroke-width="1.4"/>
<line x1="1343.0" y1="1330.5" x2="1343.0" y2="1464.1" stroke="#ebebeb" stroke-width="1.4"/>
<line x1="1125.7" y1="1330.5" x2="1125.7" y2="1464.1" stroke="#ebebeb" stroke-width="1.4"/>
<line x1="1212.6" y1="1330.5" x2="1212.6" y2="1464.1" stroke="#ebebeb" stroke-width="1.4"/>
<line x1="1299.5" y1="1330.5" x2="1299.5" y2="1464.1" stroke="#ebebeb" stroke-width="1.4"/>
<line x1="1386.4" y1="1330.5" x2="1386.4" y2="1464.1" stroke="#ebebeb" stroke-width="1.4"/>
<line x1="1111.3" y1="1355.7" x2="1427.3" y2="1355.7" stroke="#ebebeb" stroke-width="1.4"/>
<line x1="1111.3" y1="1397.8" x2="1427.3" y2="1397.8" stroke="#ebebeb" stroke-width="1.4"/>
<line x1="1111.3" y1="1439.5" x2="1427.3" y2="1439.5" stroke="#ebebeb" stroke-width="1.4"/>
<line x1="1126.0" y1="1355.7" x2="1135.0" y2="1355.7" stroke="#000" stroke-width="1.5"/>
<line x1="1270.2" y1="1355.7" x2="1412.5" y2="1355.7" stroke="#000" stroke-width="2"/>
<rect x="1135.0" y="1345.2" width="135.1" height="21.1" fill="#e26c6c" stroke="#000" stroke-width="1.3"/>
<rect x="1197.1" y="1345.2" width="6.3" height="21.1" fill="#000"/>
<line x1="1124.2" y1="1397.8" x2="1124.6" y2="1397.8" stroke="#000" stroke-width="1.5"/>
<line x1="1132.5" y1="1397.8" x2="1140.5" y2="1397.8" stroke="#000" stroke-width="2"/>
<rect x="1124.6" y="1387.0" width="7.9" height="21.3" fill="#e26c6c" stroke="#000" stroke-width="1.3"/>
<rect x="1124.6" y="1387.0" width="4.7" height="21.3" fill="#000"/>
<line x1="1125.1" y1="1439.5" x2="1125.1" y2="1439.5" stroke="#000" stroke-width="1.5"/>
<line x1="1127.8" y1="1439.5" x2="1127.8" y2="1439.5" stroke="#000" stroke-width="2"/>
<rect x="1125.1" y="1429.9" width="2.7" height="18.9" fill="#e26c6c" stroke="#000" stroke-width="1.3"/>
<rect x="1124.1" y="1429.9" width="4.0" height="18.9" fill="#000"/>
<rect x="1123.0" y="1428.4" width="6.3" height="22.9" rx="3" fill="#080808"/>
<g fill="rgba(20,20,20,0.82)"><circle cx="1127.8" cy="1339.8" r="2.2"/><circle cx="1131.8" cy="1339.5" r="2.2"/><circle cx="1139.5" cy="1343.8" r="2.2"/><circle cx="1126.9" cy="1346.7" r="2.2"/><circle cx="1131.1" cy="1352.4" r="2.2"/><circle cx="1125.1" cy="1353.3" r="2.2"/><circle cx="1125.7" cy="1367.7" r="2.2"/><circle cx="1218.3" cy="1367.7" r="2.2"/><circle cx="1221.5" cy="1341.6" r="2.2"/><circle cx="1260.8" cy="1344.3" r="2.2"/><circle cx="1271.6" cy="1353.3" r="2.2"/><circle cx="1317.0" cy="1358.4" r="2.2"/><circle cx="1341.5" cy="1342.5" r="2.2"/><circle cx="1360.6" cy="1350.3" r="2.2"/><circle cx="1405.0" cy="1351.9" r="2.2"/><circle cx="1413.1" cy="1365.4" r="2.2"/><circle cx="1126.0" cy="1382.2" r="2.2"/><circle cx="1132.9" cy="1384.9" r="2.2"/><circle cx="1125.1" cy="1392.1" r="2.2"/><circle cx="1134.1" cy="1399.3" r="2.2"/><circle cx="1134.1" cy="1408.3" r="2.2"/><circle cx="1126.0" cy="1412.8" r="2.2"/><circle cx="1128.7" cy="1412.8" r="2.2"/><circle cx="1140.5" cy="1412.8" r="2.2"/><circle cx="1131.4" cy="1411.0" r="2.2"/><circle cx="1125.1" cy="1388.5" r="2.2"/><circle cx="1125.7" cy="1395.7" r="2.2"/><circle cx="1125.1" cy="1402.9" r="2.2"/><circle cx="1126.0" cy="1406.5" r="2.2"/><circle cx="1133.2" cy="1403.8" r="2.2"/><circle cx="1127.4" cy="1386.9" r="2.2"/><circle cx="1130.7" cy="1384.4" r="2.2"/><circle cx="1129.5" cy="1393.7" r="2.2"/><circle cx="1124.8" cy="1398.2" r="2.2"/><circle cx="1124.6" cy="1395.8" r="2.2"/><circle cx="1124.9" cy="1385.0" r="2.2"/><circle cx="1128.4" cy="1408.2" r="2.2"/><circle cx="1125.5" cy="1389.2" r="2.2"/><circle cx="1130.5" cy="1412.0" r="2.2"/><circle cx="1130.0" cy="1394.7" r="2.2"/><circle cx="1133.9" cy="1383.6" r="2.2"/><circle cx="1132.7" cy="1391.3" r="2.2"/><circle cx="1125.7" cy="1385.9" r="2.2"/><circle cx="1127.3" cy="1407.9" r="2.2"/><circle cx="1126.0" cy="1400.5" r="2.2"/><circle cx="1126.0" cy="1429.0" r="2.2"/><circle cx="1126.4" cy="1431.7" r="2.2"/><circle cx="1125.7" cy="1434.4" r="2.2"/><circle cx="1126.6" cy="1437.1" r="2.2"/><circle cx="1126.0" cy="1439.8" r="2.2"/><circle cx="1125.7" cy="1442.5" r="2.2"/><circle cx="1126.4" cy="1445.2" r="2.2"/><circle cx="1126.0" cy="1447.9" r="2.2"/><circle cx="1126.0" cy="1450.1" r="2.2"/></g>
<text x="1125.8" y="1478.7" text-anchor="middle" class="t">0.0</text>
<text x="1212.9" y="1478.7" text-anchor="middle" class="t">0.2</text>
<text x="1299.7" y="1478.7" text-anchor="middle" class="t">0.4</text>
<text x="1386.5" y="1478.7" text-anchor="middle" class="t">0.6</text>
<text x="1106.6" y="1362.1" text-anchor="end" class="t">10</text>
<text x="1077.6" y="1362.1" text-anchor="end" class="t">Count (Cancer Cells within 80 µm of Lymphocytes) / (Cancer Cells in CAS)</text>
<text x="1106.6" y="1404.7" text-anchor="end" class="t">1</text>
<text x="1077.6" y="1402.7" text-anchor="end" class="t">Total Lymphocytes in CT+CAS</text>
<text x="856.2" y="1405.3" text-anchor="middle" class="st" fill="#000" stroke="#000">*</text>
<text x="1106.6" y="1443.2" text-anchor="end" class="t">3</text>
<text x="1077.6" y="1443.2" text-anchor="end" class="t">Filled Area of Largest Region of CSI</text>
<text x="1107.9" y="1296.9" class="tb">(v) TIGIT</text>
<text x="1075.4" y="1523.0" text-anchor="end" class="t">modified for interpretability</text>
<text x="881.8" y="1526.2" text-anchor="middle" class="st" fill="#000" stroke="#000" style="font-size:18px">*</text>
<text x="1075.4" y="1547.0" text-anchor="end" class="t">negatively associated</text>
<text x="917.4" y="1550.8" text-anchor="middle" class="st" fill="#a00000" stroke="#a00000" style="font-size:17px">*</text>
<circle cx="1797.9" cy="141.1" r="94.8" fill="#e5ecf6"/>
<circle cx="1797.9" cy="141.1" r="13.20" fill="none" stroke="#fff" stroke-width="1.45"/>
<circle cx="1797.9" cy="141.1" r="26.40" fill="none" stroke="#fff" stroke-width="1.45"/>
<circle cx="1797.9" cy="141.1" r="39.60" fill="none" stroke="#fff" stroke-width="1.45"/>
<circle cx="1797.9" cy="141.1" r="52.80" fill="none" stroke="#fff" stroke-width="1.45"/>
<circle cx="1797.9" cy="141.1" r="66.00" fill="none" stroke="#fff" stroke-width="1.45"/>
<circle cx="1797.9" cy="141.1" r="79.20" fill="none" stroke="#fff" stroke-width="1.45"/>
<circle cx="1797.9" cy="141.1" r="92.40" fill="none" stroke="#fff" stroke-width="1.45"/>
<line x1="1797.9" y1="141.1" x2="1797.90" y2="46.30" stroke="#fff" stroke-width="1.45"/>
<line x1="1797.9" y1="141.1" x2="1858.84" y2="68.48" stroke="#fff" stroke-width="1.45"/>
<line x1="1797.9" y1="141.1" x2="1891.26" y2="124.64" stroke="#fff" stroke-width="1.45"/>
<line x1="1797.9" y1="141.1" x2="1880.00" y2="188.50" stroke="#fff" stroke-width="1.45"/>
<line x1="1797.9" y1="141.1" x2="1830.32" y2="230.18" stroke="#fff" stroke-width="1.45"/>
<line x1="1797.9" y1="141.1" x2="1765.48" y2="230.18" stroke="#fff" stroke-width="1.45"/>
<line x1="1797.9" y1="141.1" x2="1715.80" y2="188.50" stroke="#fff" stroke-width="1.45"/>
<line x1="1797.9" y1="141.1" x2="1704.54" y2="124.64" stroke="#fff" stroke-width="1.45"/>
<line x1="1797.9" y1="141.1" x2="1736.96" y2="68.48" stroke="#fff" stroke-width="1.45"/>
<polygon points="1797.90,111.71 1802.65,135.44 1891.26,124.64 1820.89,154.37 1805.68,162.48 1791.42,158.92 1774.09,154.85 1761.49,134.68 1797.90,141.10" fill="rgba(99,110,250,0.5)" stroke="#636efa" stroke-width="2" stroke-linejoin="miter"/>
<line x1="1797.9" y1="141.1" x2="1892.70" y2="141.1" stroke="#fff" stroke-width="1.6"/>
<text x="1770.4" y="41.9" class="t">Cancer Cells</text>
<text x="1866.4" y="66.9" class="t">Fibroblasts</text>
<text x="1898.8" y="128.9" class="t">Lymphocytes</text>
<text x="1888.8" y="197.5" class="t">Macrophages</text>
<text x="1834.0" y="246.3" class="t">Plasma Cells</text>
<text x="1700.1" y="250.6" class="t">Cancer Tissue</text>
<text x="1519.2" y="197.5" class="t">Cancer-Associated Stroma</text>
<text x="1525.7" y="126.4" class="t">Cancer-Stroma Interface</text>
<text x="1676.0" y="66.9" class="t">Necrosis</text>
<circle cx="1798.1" cy="468.0" r="93.0" fill="#e5ecf6"/>
<circle cx="1798.1" cy="468.0" r="16.40" fill="none" stroke="#fff" stroke-width="1.45"/>
<circle cx="1798.1" cy="468.0" r="32.80" fill="none" stroke="#fff" stroke-width="1.45"/>
<circle cx="1798.1" cy="468.0" r="49.20" fill="none" stroke="#fff" stroke-width="1.45"/>
<circle cx="1798.1" cy="468.0" r="65.60" fill="none" stroke="#fff" stroke-width="1.45"/>
<circle cx="1798.1" cy="468.0" r="82.00" fill="none" stroke="#fff" stroke-width="1.45"/>
<line x1="1798.1" y1="468.0" x2="1798.10" y2="375.00" stroke="#fff" stroke-width="1.45"/>
<line x1="1798.1" y1="468.0" x2="1857.88" y2="396.76" stroke="#fff" stroke-width="1.45"/>
<line x1="1798.1" y1="468.0" x2="1889.69" y2="451.85" stroke="#fff" stroke-width="1.45"/>
<line x1="1798.1" y1="468.0" x2="1878.64" y2="514.50" stroke="#fff" stroke-width="1.45"/>
<line x1="1798.1" y1="468.0" x2="1829.91" y2="555.39" stroke="#fff" stroke-width="1.45"/>
<line x1="1798.1" y1="468.0" x2="1766.29" y2="555.39" stroke="#fff" stroke-width="1.45"/>
<line x1="1798.1" y1="468.0" x2="1717.56" y2="514.50" stroke="#fff" stroke-width="1.45"/>
<line x1="1798.1" y1="468.0" x2="1706.51" y2="451.85" stroke="#fff" stroke-width="1.45"/>
<line x1="1798.1" y1="468.0" x2="1738.32" y2="396.76" stroke="#fff" stroke-width="1.45"/>
<polygon points="1798.10,423.08 1807.31,457.03 1889.69,451.85 1827.58,485.02 1799.91,472.98 1790.98,487.58 1770.15,484.14 1757.62,460.86 1770.12,434.66" fill="rgba(99,110,250,0.5)" stroke="#636efa" stroke-width="2" stroke-linejoin="miter"/>
<line x1="1798.1" y1="468.0" x2="1891.10" y2="468.0" stroke="#fff" stroke-width="1.6"/>
<text x="1761.0" y="369.9" class="t">Cancer Cells</text>
<text x="1860.7" y="394.3" class="t">Fibroblasts</text>
<text x="1896.3" y="456.4" class="t">Lymphocytes</text>
<text x="1885.6" y="524.9" class="t">Macrophages</text>
<text x="1831.5" y="573.8" class="t">Plasma Cells</text>
<text x="1691.2" y="578.0" class="t">Cancer Tissue</text>
<text x="1519.2" y="524.9" class="t">Cancer-Associated Stroma</text>
<text x="1525.7" y="453.9" class="t">Cancer-Stroma Interface</text>
<text x="1673.2" y="394.3" class="t">Necrosis</text>
<circle cx="1798.1" cy="775.4" r="103.4" fill="#e5ecf6"/>
<circle cx="1798.1" cy="775.4" r="14.00" fill="none" stroke="#fff" stroke-width="1.45"/>
<circle cx="1798.1" cy="775.4" r="28.00" fill="none" stroke="#fff" stroke-width="1.45"/>
<circle cx="1798.1" cy="775.4" r="42.00" fill="none" stroke="#fff" stroke-width="1.45"/>
<circle cx="1798.1" cy="775.4" r="56.00" fill="none" stroke="#fff" stroke-width="1.45"/>
<circle cx="1798.1" cy="775.4" r="70.00" fill="none" stroke="#fff" stroke-width="1.45"/>
<circle cx="1798.1" cy="775.4" r="84.00" fill="none" stroke="#fff" stroke-width="1.45"/>
<circle cx="1798.1" cy="775.4" r="98.00" fill="none" stroke="#fff" stroke-width="1.45"/>
<line x1="1798.1" y1="775.4" x2="1798.10" y2="672.00" stroke="#fff" stroke-width="1.45"/>
<line x1="1798.1" y1="775.4" x2="1864.56" y2="696.19" stroke="#fff" stroke-width="1.45"/>
<line x1="1798.1" y1="775.4" x2="1899.93" y2="757.44" stroke="#fff" stroke-width="1.45"/>
<line x1="1798.1" y1="775.4" x2="1887.65" y2="827.10" stroke="#fff" stroke-width="1.45"/>
<line x1="1798.1" y1="775.4" x2="1833.46" y2="872.56" stroke="#fff" stroke-width="1.45"/>
<line x1="1798.1" y1="775.4" x2="1762.74" y2="872.56" stroke="#fff" stroke-width="1.45"/>
<line x1="1798.1" y1="775.4" x2="1708.55" y2="827.10" stroke="#fff" stroke-width="1.45"/>
<line x1="1798.1" y1="775.4" x2="1696.27" y2="757.44" stroke="#fff" stroke-width="1.45"/>
<line x1="1798.1" y1="775.4" x2="1731.64" y2="696.19" stroke="#fff" stroke-width="1.45"/>
<polygon points="1798.10,740.66 1804.75,767.48 1899.93,757.44 1808.58,781.45 1801.99,786.09 1791.59,793.28 1771.68,790.65 1760.83,768.83 1784.14,758.77" fill="rgba(99,110,250,0.5)" stroke="#636efa" stroke-width="2" stroke-linejoin="miter"/>
<line x1="1798.1" y1="775.4" x2="1901.50" y2="775.4" stroke="#fff" stroke-width="1.6"/>
<text x="1770.4" y="668.7" class="t">Cancer Cells</text>
<text x="1870.1" y="693.6" class="t">Fibroblasts</text>
<text x="1905.5" y="755.9" class="t">Lymphocytes</text>
<text x="1895.1" y="836.4" class="t">Macrophages</text>
<text x="1841.0" y="891.8" class="t">Plasma Cells</text>
<text x="1700.1" y="892.5" class="t">Cancer Tissue</text>
<text x="1513.0" y="834.0" class="t">Cancer-Associated Stroma</text>
<text x="1519.4" y="762.2" class="t">Cancer-Stroma Interface</text>
<text x="1669.5" y="693.6" class="t">Necrosis</text>
<circle cx="1798.1" cy="1111.0" r="108.0" fill="#e5ecf6"/>
<circle cx="1798.1" cy="1111.0" r="13.60" fill="none" stroke="#fff" stroke-width="1.45"/>
<circle cx="1798.1" cy="1111.0" r="27.20" fill="none" stroke="#fff" stroke-width="1.45"/>
<circle cx="1798.1" cy="1111.0" r="40.80" fill="none" stroke="#fff" stroke-width="1.45"/>
<circle cx="1798.1" cy="1111.0" r="54.40" fill="none" stroke="#fff" stroke-width="1.45"/>
<circle cx="1798.1" cy="1111.0" r="68.00" fill="none" stroke="#fff" stroke-width="1.45"/>
<circle cx="1798.1" cy="1111.0" r="81.60" fill="none" stroke="#fff" stroke-width="1.45"/>
<circle cx="1798.1" cy="1111.0" r="95.20" fill="none" stroke="#fff" stroke-width="1.45"/>
<line x1="1798.1" y1="1111.0" x2="1798.10" y2="1003.00" stroke="#fff" stroke-width="1.45"/>
<line x1="1798.1" y1="1111.0" x2="1867.52" y2="1028.27" stroke="#fff" stroke-width="1.45"/>
<line x1="1798.1" y1="1111.0" x2="1904.46" y2="1092.25" stroke="#fff" stroke-width="1.45"/>
<line x1="1798.1" y1="1111.0" x2="1891.63" y2="1165.00" stroke="#fff" stroke-width="1.45"/>
<line x1="1798.1" y1="1111.0" x2="1835.04" y2="1212.49" stroke="#fff" stroke-width="1.45"/>
<line x1="1798.1" y1="1111.0" x2="1761.16" y2="1212.49" stroke="#fff" stroke-width="1.45"/>
<line x1="1798.1" y1="1111.0" x2="1704.57" y2="1165.00" stroke="#fff" stroke-width="1.45"/>
<line x1="1798.1" y1="1111.0" x2="1691.74" y2="1092.25" stroke="#fff" stroke-width="1.45"/>
<line x1="1798.1" y1="1111.0" x2="1728.68" y2="1028.27" stroke="#fff" stroke-width="1.45"/>
<polygon points="1798.10,1107.22 1821.22,1083.45 1804.16,1109.93 1803.52,1114.13 1816.57,1161.74 1790.23,1132.62 1785.01,1118.56 1781.08,1108.00 1728.68,1028.27" fill="rgba(99,110,250,0.5)" stroke="#636efa" stroke-width="2" stroke-linejoin="miter"/>
<line x1="1798.1" y1="1111.0" x2="1906.10" y2="1111.0" stroke="#fff" stroke-width="1.6"/>
<text x="1770.4" y="999.4" class="t">Cancer Cells</text>
<text x="1870.1" y="1024.4" class="t">Fibroblasts</text>
<text x="1905.5" y="1093.4" class="t">Lymphocytes</text>
<text x="1895.1" y="1176.9" class="t">Macrophages</text>
<text x="1841.0" y="1229.3" class="t">Plasma Cells</text>
<text x="1700.1" y="1230.0" class="t">Cancer Tissue</text>
<text x="1513.0" y="1173.9" class="t">Cancer-Associated Stroma</text>
<text x="1513.0" y="1095.9" class="t">Cancer-Stroma Interface</text>
<text x="1669.5" y="1024.4" class="t">Necrosis</text>
<circle cx="1795.1" cy="1428.7" r="97.6" fill="#e5ecf6"/>
<circle cx="1795.1" cy="1428.7" r="8.85" fill="none" stroke="#fff" stroke-width="1.45"/>
<circle cx="1795.1" cy="1428.7" r="17.70" fill="none" stroke="#fff" stroke-width="1.45"/>
<circle cx="1795.1" cy="1428.7" r="26.55" fill="none" stroke="#fff" stroke-width="1.45"/>
<circle cx="1795.1" cy="1428.7" r="35.40" fill="none" stroke="#fff" stroke-width="1.45"/>
<circle cx="1795.1" cy="1428.7" r="44.25" fill="none" stroke="#fff" stroke-width="1.45"/>
<circle cx="1795.1" cy="1428.7" r="53.10" fill="none" stroke="#fff" stroke-width="1.45"/>
<circle cx="1795.1" cy="1428.7" r="61.95" fill="none" stroke="#fff" stroke-width="1.45"/>
<circle cx="1795.1" cy="1428.7" r="70.80" fill="none" stroke="#fff" stroke-width="1.45"/>
<circle cx="1795.1" cy="1428.7" r="79.65" fill="none" stroke="#fff" stroke-width="1.45"/>
<circle cx="1795.1" cy="1428.7" r="88.50" fill="none" stroke="#fff" stroke-width="1.45"/>
<line x1="1795.1" y1="1428.7" x2="1795.10" y2="1331.10" stroke="#fff" stroke-width="1.45"/>
<line x1="1795.1" y1="1428.7" x2="1857.84" y2="1353.93" stroke="#fff" stroke-width="1.45"/>
<line x1="1795.1" y1="1428.7" x2="1891.22" y2="1411.75" stroke="#fff" stroke-width="1.45"/>
<line x1="1795.1" y1="1428.7" x2="1879.62" y2="1477.50" stroke="#fff" stroke-width="1.45"/>
<line x1="1795.1" y1="1428.7" x2="1828.48" y2="1520.41" stroke="#fff" stroke-width="1.45"/>
<line x1="1795.1" y1="1428.7" x2="1761.72" y2="1520.41" stroke="#fff" stroke-width="1.45"/>
<line x1="1795.1" y1="1428.7" x2="1710.58" y2="1477.50" stroke="#fff" stroke-width="1.45"/>
<line x1="1795.1" y1="1428.7" x2="1698.98" y2="1411.75" stroke="#fff" stroke-width="1.45"/>
<line x1="1795.1" y1="1428.7" x2="1732.36" y2="1353.93" stroke="#fff" stroke-width="1.45"/>
<polygon points="1795.10,1405.47 1795.10,1428.70 1891.22,1411.75 1795.10,1428.70 1795.10,1428.70 1792.23,1436.59 1783.27,1435.53 1762.42,1422.94 1795.10,1428.70" fill="rgba(99,110,250,0.5)" stroke="#636efa" stroke-width="2" stroke-linejoin="miter"/>
<line x1="1795.1" y1="1428.7" x2="1892.70" y2="1428.7" stroke="#fff" stroke-width="1.6"/>
<text x="1770.4" y="1324.2" class="t">Cancer Cells</text>
<text x="1863.4" y="1351.8" class="t">Fibroblasts</text>
<text x="1898.8" y="1414.2" class="t">Lymphocytes</text>
<text x="1885.6" y="1491.9" class="t">Macrophages</text>
<text x="1831.5" y="1538.0" class="t">Plasma Cells</text>
<text x="1700.1" y="1538.8" class="t">Cancer Tissue</text>
<text x="1515.7" y="1488.7" class="t">Cancer-Associated Stroma</text>
<text x="1519.4" y="1417.1" class="t">Cancer-Stroma Interface</text>
<text x="1669.5" y="1348.6" class="t">Necrosis</text>
<text transform="translate(3.3,18.8) scale(0.86,1)" class="tl">a</text>
<text transform="translate(575.2,18.8) scale(0.87,1)" class="tl">b</text>
</svg>
</body></html>
